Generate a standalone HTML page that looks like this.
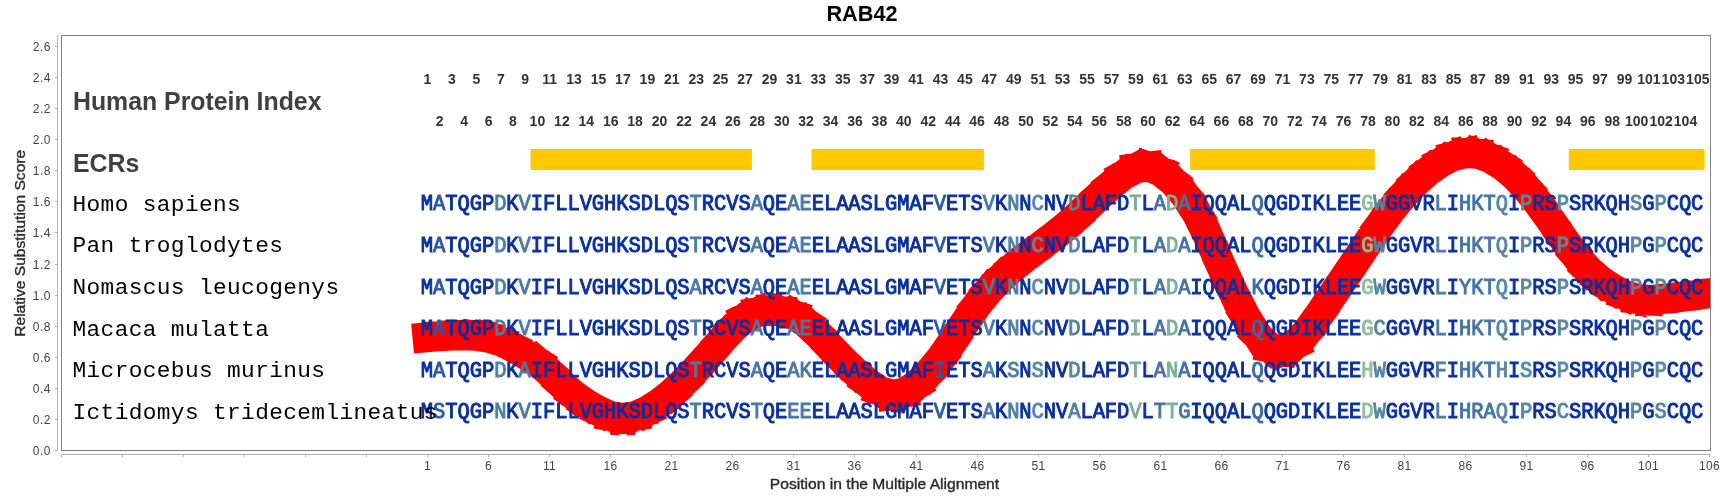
<!DOCTYPE html><html><head><meta charset="utf-8"><style>
html,body{margin:0;padding:0;background:#fff;width:1722px;height:500px;overflow:hidden}
svg{display:block;will-change:transform}
.s{font-family:"Liberation Sans",sans-serif}
.m{font-family:"Liberation Mono",monospace}
</style></head><body>
<svg width="1722" height="500" viewBox="0 0 1722 500">
<rect width="1722" height="500" fill="#fff"/>
<text class="s" x="862" y="21" font-size="21.7" font-weight="bold" text-anchor="middle" fill="#000">RAB42</text>
<line x1="57.5" y1="35" x2="57.5" y2="451" stroke="#b4b4b4" stroke-width="1"/>
<line x1="55" y1="450.5" x2="57" y2="450.5" stroke="#b4b4b4" stroke-width="1"/>
<text class="s" x="51" y="455.0" font-size="12" text-anchor="end" fill="#444" letter-spacing="0.55">0.0</text>
<line x1="55" y1="419.5" x2="57" y2="419.5" stroke="#b4b4b4" stroke-width="1"/>
<text class="s" x="51" y="424.0" font-size="12" text-anchor="end" fill="#444" letter-spacing="0.55">0.2</text>
<line x1="55" y1="388.5" x2="57" y2="388.5" stroke="#b4b4b4" stroke-width="1"/>
<text class="s" x="51" y="393.0" font-size="12" text-anchor="end" fill="#444" letter-spacing="0.55">0.4</text>
<line x1="55" y1="357.5" x2="57" y2="357.5" stroke="#b4b4b4" stroke-width="1"/>
<text class="s" x="51" y="362.0" font-size="12" text-anchor="end" fill="#444" letter-spacing="0.55">0.6</text>
<line x1="55" y1="326.5" x2="57" y2="326.5" stroke="#b4b4b4" stroke-width="1"/>
<text class="s" x="51" y="331.0" font-size="12" text-anchor="end" fill="#444" letter-spacing="0.55">0.8</text>
<line x1="55" y1="295.5" x2="57" y2="295.5" stroke="#b4b4b4" stroke-width="1"/>
<text class="s" x="51" y="300.0" font-size="12" text-anchor="end" fill="#444" letter-spacing="0.55">1.0</text>
<line x1="55" y1="264.5" x2="57" y2="264.5" stroke="#b4b4b4" stroke-width="1"/>
<text class="s" x="51" y="269.0" font-size="12" text-anchor="end" fill="#444" letter-spacing="0.55">1.2</text>
<line x1="55" y1="232.5" x2="57" y2="232.5" stroke="#b4b4b4" stroke-width="1"/>
<text class="s" x="51" y="237.0" font-size="12" text-anchor="end" fill="#444" letter-spacing="0.55">1.4</text>
<line x1="55" y1="201.5" x2="57" y2="201.5" stroke="#b4b4b4" stroke-width="1"/>
<text class="s" x="51" y="206.0" font-size="12" text-anchor="end" fill="#444" letter-spacing="0.55">1.6</text>
<line x1="55" y1="170.5" x2="57" y2="170.5" stroke="#b4b4b4" stroke-width="1"/>
<text class="s" x="51" y="175.0" font-size="12" text-anchor="end" fill="#444" letter-spacing="0.55">1.8</text>
<line x1="55" y1="139.5" x2="57" y2="139.5" stroke="#b4b4b4" stroke-width="1"/>
<text class="s" x="51" y="144.0" font-size="12" text-anchor="end" fill="#444" letter-spacing="0.55">2.0</text>
<line x1="55" y1="108.5" x2="57" y2="108.5" stroke="#b4b4b4" stroke-width="1"/>
<text class="s" x="51" y="113.0" font-size="12" text-anchor="end" fill="#444" letter-spacing="0.55">2.2</text>
<line x1="55" y1="77.5" x2="57" y2="77.5" stroke="#b4b4b4" stroke-width="1"/>
<text class="s" x="51" y="82.0" font-size="12" text-anchor="end" fill="#444" letter-spacing="0.55">2.4</text>
<line x1="55" y1="46.5" x2="57" y2="46.5" stroke="#b4b4b4" stroke-width="1"/>
<text class="s" x="51" y="51.0" font-size="12" text-anchor="end" fill="#444" letter-spacing="0.55">2.6</text>
<text class="s" transform="translate(25,243.3) rotate(-90) scale(1.113,1)" x="0" y="0" font-size="14" text-anchor="middle" fill="#2a2a2a" stroke="#2a2a2a" stroke-width="0.35">Relative Substitution Score</text>
<line x1="61" y1="454.5" x2="1711" y2="454.5" stroke="#b4b4b4" stroke-width="1"/>
<line x1="61.5" y1="455" x2="61.5" y2="457" stroke="#b4b4b4" stroke-width="1"/>
<line x1="122.5" y1="455" x2="122.5" y2="457" stroke="#b4b4b4" stroke-width="1"/>
<line x1="183.5" y1="455" x2="183.5" y2="457" stroke="#b4b4b4" stroke-width="1"/>
<line x1="244.5" y1="455" x2="244.5" y2="457" stroke="#b4b4b4" stroke-width="1"/>
<line x1="305.5" y1="455" x2="305.5" y2="457" stroke="#b4b4b4" stroke-width="1"/>
<line x1="366.5" y1="455" x2="366.5" y2="457" stroke="#b4b4b4" stroke-width="1"/>
<line x1="427.5" y1="455" x2="427.5" y2="457" stroke="#b4b4b4" stroke-width="1"/>
<text class="s" x="427.5" y="470" font-size="12" text-anchor="middle" fill="#444" letter-spacing="0.3">1</text>
<line x1="488.5" y1="455" x2="488.5" y2="457" stroke="#b4b4b4" stroke-width="1"/>
<text class="s" x="488.5" y="470" font-size="12" text-anchor="middle" fill="#444" letter-spacing="0.3">6</text>
<line x1="549.5" y1="455" x2="549.5" y2="457" stroke="#b4b4b4" stroke-width="1"/>
<text class="s" x="549.5" y="470" font-size="12" text-anchor="middle" fill="#444" letter-spacing="0.3">11</text>
<line x1="610.5" y1="455" x2="610.5" y2="457" stroke="#b4b4b4" stroke-width="1"/>
<text class="s" x="610.5" y="470" font-size="12" text-anchor="middle" fill="#444" letter-spacing="0.3">16</text>
<line x1="671.5" y1="455" x2="671.5" y2="457" stroke="#b4b4b4" stroke-width="1"/>
<text class="s" x="671.5" y="470" font-size="12" text-anchor="middle" fill="#444" letter-spacing="0.3">21</text>
<line x1="732.5" y1="455" x2="732.5" y2="457" stroke="#b4b4b4" stroke-width="1"/>
<text class="s" x="732.5" y="470" font-size="12" text-anchor="middle" fill="#444" letter-spacing="0.3">26</text>
<line x1="793.5" y1="455" x2="793.5" y2="457" stroke="#b4b4b4" stroke-width="1"/>
<text class="s" x="793.5" y="470" font-size="12" text-anchor="middle" fill="#444" letter-spacing="0.3">31</text>
<line x1="854.5" y1="455" x2="854.5" y2="457" stroke="#b4b4b4" stroke-width="1"/>
<text class="s" x="854.5" y="470" font-size="12" text-anchor="middle" fill="#444" letter-spacing="0.3">36</text>
<line x1="916.5" y1="455" x2="916.5" y2="457" stroke="#b4b4b4" stroke-width="1"/>
<text class="s" x="916.5" y="470" font-size="12" text-anchor="middle" fill="#444" letter-spacing="0.3">41</text>
<line x1="977.5" y1="455" x2="977.5" y2="457" stroke="#b4b4b4" stroke-width="1"/>
<text class="s" x="977.5" y="470" font-size="12" text-anchor="middle" fill="#444" letter-spacing="0.3">46</text>
<line x1="1038.5" y1="455" x2="1038.5" y2="457" stroke="#b4b4b4" stroke-width="1"/>
<text class="s" x="1038.5" y="470" font-size="12" text-anchor="middle" fill="#444" letter-spacing="0.3">51</text>
<line x1="1099.5" y1="455" x2="1099.5" y2="457" stroke="#b4b4b4" stroke-width="1"/>
<text class="s" x="1099.5" y="470" font-size="12" text-anchor="middle" fill="#444" letter-spacing="0.3">56</text>
<line x1="1160.5" y1="455" x2="1160.5" y2="457" stroke="#b4b4b4" stroke-width="1"/>
<text class="s" x="1160.5" y="470" font-size="12" text-anchor="middle" fill="#444" letter-spacing="0.3">61</text>
<line x1="1221.5" y1="455" x2="1221.5" y2="457" stroke="#b4b4b4" stroke-width="1"/>
<text class="s" x="1221.5" y="470" font-size="12" text-anchor="middle" fill="#444" letter-spacing="0.3">66</text>
<line x1="1282.5" y1="455" x2="1282.5" y2="457" stroke="#b4b4b4" stroke-width="1"/>
<text class="s" x="1282.5" y="470" font-size="12" text-anchor="middle" fill="#444" letter-spacing="0.3">71</text>
<line x1="1343.5" y1="455" x2="1343.5" y2="457" stroke="#b4b4b4" stroke-width="1"/>
<text class="s" x="1343.5" y="470" font-size="12" text-anchor="middle" fill="#444" letter-spacing="0.3">76</text>
<line x1="1404.5" y1="455" x2="1404.5" y2="457" stroke="#b4b4b4" stroke-width="1"/>
<text class="s" x="1404.5" y="470" font-size="12" text-anchor="middle" fill="#444" letter-spacing="0.3">81</text>
<line x1="1465.5" y1="455" x2="1465.5" y2="457" stroke="#b4b4b4" stroke-width="1"/>
<text class="s" x="1465.5" y="470" font-size="12" text-anchor="middle" fill="#444" letter-spacing="0.3">86</text>
<line x1="1526.5" y1="455" x2="1526.5" y2="457" stroke="#b4b4b4" stroke-width="1"/>
<text class="s" x="1526.5" y="470" font-size="12" text-anchor="middle" fill="#444" letter-spacing="0.3">91</text>
<line x1="1587.5" y1="455" x2="1587.5" y2="457" stroke="#b4b4b4" stroke-width="1"/>
<text class="s" x="1587.5" y="470" font-size="12" text-anchor="middle" fill="#444" letter-spacing="0.3">96</text>
<line x1="1648.5" y1="455" x2="1648.5" y2="457" stroke="#b4b4b4" stroke-width="1"/>
<text class="s" x="1648.5" y="470" font-size="12" text-anchor="middle" fill="#444" letter-spacing="0.3">101</text>
<line x1="1709.5" y1="455" x2="1709.5" y2="457" stroke="#b4b4b4" stroke-width="1"/>
<text class="s" x="1709.5" y="470" font-size="12" text-anchor="middle" fill="#444" letter-spacing="0.3">106</text>
<text class="s" transform="translate(884.5,489) scale(1.117,1)" x="0" y="0" font-size="14" text-anchor="middle" fill="#2a2a2a" stroke="#2a2a2a" stroke-width="0.35">Position in the Multiple Alignment</text>
<rect x="61.5" y="35.5" width="1649" height="415" fill="none" stroke="#808080" stroke-width="1"/>
<text class="s" x="73" y="110" font-size="24.85" font-weight="bold" fill="#404040">Human Protein Index</text>
<text class="s" x="73" y="172" font-size="24.85" font-weight="bold" fill="#404040">ECRs</text>
<text class="s" x="427.5" y="84" font-size="14" font-weight="bold" text-anchor="middle" fill="#333">1</text>
<text class="s" x="439.7" y="126" font-size="14" font-weight="bold" text-anchor="middle" fill="#333">2</text>
<text class="s" x="451.9" y="84" font-size="14" font-weight="bold" text-anchor="middle" fill="#333">3</text>
<text class="s" x="464.1" y="126" font-size="14" font-weight="bold" text-anchor="middle" fill="#333">4</text>
<text class="s" x="476.4" y="84" font-size="14" font-weight="bold" text-anchor="middle" fill="#333">5</text>
<text class="s" x="488.6" y="126" font-size="14" font-weight="bold" text-anchor="middle" fill="#333">6</text>
<text class="s" x="500.8" y="84" font-size="14" font-weight="bold" text-anchor="middle" fill="#333">7</text>
<text class="s" x="513.0" y="126" font-size="14" font-weight="bold" text-anchor="middle" fill="#333">8</text>
<text class="s" x="525.2" y="84" font-size="14" font-weight="bold" text-anchor="middle" fill="#333">9</text>
<text class="s" x="537.4" y="126" font-size="14" font-weight="bold" text-anchor="middle" fill="#333">10</text>
<text class="s" x="549.6" y="84" font-size="14" font-weight="bold" text-anchor="middle" fill="#333">11</text>
<text class="s" x="561.9" y="126" font-size="14" font-weight="bold" text-anchor="middle" fill="#333">12</text>
<text class="s" x="574.1" y="84" font-size="14" font-weight="bold" text-anchor="middle" fill="#333">13</text>
<text class="s" x="586.3" y="126" font-size="14" font-weight="bold" text-anchor="middle" fill="#333">14</text>
<text class="s" x="598.5" y="84" font-size="14" font-weight="bold" text-anchor="middle" fill="#333">15</text>
<text class="s" x="610.7" y="126" font-size="14" font-weight="bold" text-anchor="middle" fill="#333">16</text>
<text class="s" x="622.9" y="84" font-size="14" font-weight="bold" text-anchor="middle" fill="#333">17</text>
<text class="s" x="635.1" y="126" font-size="14" font-weight="bold" text-anchor="middle" fill="#333">18</text>
<text class="s" x="647.4" y="84" font-size="14" font-weight="bold" text-anchor="middle" fill="#333">19</text>
<text class="s" x="659.6" y="126" font-size="14" font-weight="bold" text-anchor="middle" fill="#333">20</text>
<text class="s" x="671.8" y="84" font-size="14" font-weight="bold" text-anchor="middle" fill="#333">21</text>
<text class="s" x="684.0" y="126" font-size="14" font-weight="bold" text-anchor="middle" fill="#333">22</text>
<text class="s" x="696.2" y="84" font-size="14" font-weight="bold" text-anchor="middle" fill="#333">23</text>
<text class="s" x="708.4" y="126" font-size="14" font-weight="bold" text-anchor="middle" fill="#333">24</text>
<text class="s" x="720.6" y="84" font-size="14" font-weight="bold" text-anchor="middle" fill="#333">25</text>
<text class="s" x="732.9" y="126" font-size="14" font-weight="bold" text-anchor="middle" fill="#333">26</text>
<text class="s" x="745.1" y="84" font-size="14" font-weight="bold" text-anchor="middle" fill="#333">27</text>
<text class="s" x="757.3" y="126" font-size="14" font-weight="bold" text-anchor="middle" fill="#333">28</text>
<text class="s" x="769.5" y="84" font-size="14" font-weight="bold" text-anchor="middle" fill="#333">29</text>
<text class="s" x="781.7" y="126" font-size="14" font-weight="bold" text-anchor="middle" fill="#333">30</text>
<text class="s" x="793.9" y="84" font-size="14" font-weight="bold" text-anchor="middle" fill="#333">31</text>
<text class="s" x="806.1" y="126" font-size="14" font-weight="bold" text-anchor="middle" fill="#333">32</text>
<text class="s" x="818.3" y="84" font-size="14" font-weight="bold" text-anchor="middle" fill="#333">33</text>
<text class="s" x="830.6" y="126" font-size="14" font-weight="bold" text-anchor="middle" fill="#333">34</text>
<text class="s" x="842.8" y="84" font-size="14" font-weight="bold" text-anchor="middle" fill="#333">35</text>
<text class="s" x="855.0" y="126" font-size="14" font-weight="bold" text-anchor="middle" fill="#333">36</text>
<text class="s" x="867.2" y="84" font-size="14" font-weight="bold" text-anchor="middle" fill="#333">37</text>
<text class="s" x="879.4" y="126" font-size="14" font-weight="bold" text-anchor="middle" fill="#333">38</text>
<text class="s" x="891.6" y="84" font-size="14" font-weight="bold" text-anchor="middle" fill="#333">39</text>
<text class="s" x="903.8" y="126" font-size="14" font-weight="bold" text-anchor="middle" fill="#333">40</text>
<text class="s" x="916.1" y="84" font-size="14" font-weight="bold" text-anchor="middle" fill="#333">41</text>
<text class="s" x="928.3" y="126" font-size="14" font-weight="bold" text-anchor="middle" fill="#333">42</text>
<text class="s" x="940.5" y="84" font-size="14" font-weight="bold" text-anchor="middle" fill="#333">43</text>
<text class="s" x="952.7" y="126" font-size="14" font-weight="bold" text-anchor="middle" fill="#333">44</text>
<text class="s" x="964.9" y="84" font-size="14" font-weight="bold" text-anchor="middle" fill="#333">45</text>
<text class="s" x="977.1" y="126" font-size="14" font-weight="bold" text-anchor="middle" fill="#333">46</text>
<text class="s" x="989.3" y="84" font-size="14" font-weight="bold" text-anchor="middle" fill="#333">47</text>
<text class="s" x="1001.6" y="126" font-size="14" font-weight="bold" text-anchor="middle" fill="#333">48</text>
<text class="s" x="1013.8" y="84" font-size="14" font-weight="bold" text-anchor="middle" fill="#333">49</text>
<text class="s" x="1026.0" y="126" font-size="14" font-weight="bold" text-anchor="middle" fill="#333">50</text>
<text class="s" x="1038.2" y="84" font-size="14" font-weight="bold" text-anchor="middle" fill="#333">51</text>
<text class="s" x="1050.4" y="126" font-size="14" font-weight="bold" text-anchor="middle" fill="#333">52</text>
<text class="s" x="1062.6" y="84" font-size="14" font-weight="bold" text-anchor="middle" fill="#333">53</text>
<text class="s" x="1074.8" y="126" font-size="14" font-weight="bold" text-anchor="middle" fill="#333">54</text>
<text class="s" x="1087.1" y="84" font-size="14" font-weight="bold" text-anchor="middle" fill="#333">55</text>
<text class="s" x="1099.3" y="126" font-size="14" font-weight="bold" text-anchor="middle" fill="#333">56</text>
<text class="s" x="1111.5" y="84" font-size="14" font-weight="bold" text-anchor="middle" fill="#333">57</text>
<text class="s" x="1123.7" y="126" font-size="14" font-weight="bold" text-anchor="middle" fill="#333">58</text>
<text class="s" x="1135.9" y="84" font-size="14" font-weight="bold" text-anchor="middle" fill="#333">59</text>
<text class="s" x="1148.1" y="126" font-size="14" font-weight="bold" text-anchor="middle" fill="#333">60</text>
<text class="s" x="1160.3" y="84" font-size="14" font-weight="bold" text-anchor="middle" fill="#333">61</text>
<text class="s" x="1172.6" y="126" font-size="14" font-weight="bold" text-anchor="middle" fill="#333">62</text>
<text class="s" x="1184.8" y="84" font-size="14" font-weight="bold" text-anchor="middle" fill="#333">63</text>
<text class="s" x="1197.0" y="126" font-size="14" font-weight="bold" text-anchor="middle" fill="#333">64</text>
<text class="s" x="1209.2" y="84" font-size="14" font-weight="bold" text-anchor="middle" fill="#333">65</text>
<text class="s" x="1221.4" y="126" font-size="14" font-weight="bold" text-anchor="middle" fill="#333">66</text>
<text class="s" x="1233.6" y="84" font-size="14" font-weight="bold" text-anchor="middle" fill="#333">67</text>
<text class="s" x="1245.8" y="126" font-size="14" font-weight="bold" text-anchor="middle" fill="#333">68</text>
<text class="s" x="1258.1" y="84" font-size="14" font-weight="bold" text-anchor="middle" fill="#333">69</text>
<text class="s" x="1270.3" y="126" font-size="14" font-weight="bold" text-anchor="middle" fill="#333">70</text>
<text class="s" x="1282.5" y="84" font-size="14" font-weight="bold" text-anchor="middle" fill="#333">71</text>
<text class="s" x="1294.7" y="126" font-size="14" font-weight="bold" text-anchor="middle" fill="#333">72</text>
<text class="s" x="1306.9" y="84" font-size="14" font-weight="bold" text-anchor="middle" fill="#333">73</text>
<text class="s" x="1319.1" y="126" font-size="14" font-weight="bold" text-anchor="middle" fill="#333">74</text>
<text class="s" x="1331.3" y="84" font-size="14" font-weight="bold" text-anchor="middle" fill="#333">75</text>
<text class="s" x="1343.6" y="126" font-size="14" font-weight="bold" text-anchor="middle" fill="#333">76</text>
<text class="s" x="1355.8" y="84" font-size="14" font-weight="bold" text-anchor="middle" fill="#333">77</text>
<text class="s" x="1368.0" y="126" font-size="14" font-weight="bold" text-anchor="middle" fill="#333">78</text>
<text class="s" x="1380.2" y="84" font-size="14" font-weight="bold" text-anchor="middle" fill="#333">79</text>
<text class="s" x="1392.4" y="126" font-size="14" font-weight="bold" text-anchor="middle" fill="#333">80</text>
<text class="s" x="1404.6" y="84" font-size="14" font-weight="bold" text-anchor="middle" fill="#333">81</text>
<text class="s" x="1416.8" y="126" font-size="14" font-weight="bold" text-anchor="middle" fill="#333">82</text>
<text class="s" x="1429.0" y="84" font-size="14" font-weight="bold" text-anchor="middle" fill="#333">83</text>
<text class="s" x="1441.3" y="126" font-size="14" font-weight="bold" text-anchor="middle" fill="#333">84</text>
<text class="s" x="1453.5" y="84" font-size="14" font-weight="bold" text-anchor="middle" fill="#333">85</text>
<text class="s" x="1465.7" y="126" font-size="14" font-weight="bold" text-anchor="middle" fill="#333">86</text>
<text class="s" x="1477.9" y="84" font-size="14" font-weight="bold" text-anchor="middle" fill="#333">87</text>
<text class="s" x="1490.1" y="126" font-size="14" font-weight="bold" text-anchor="middle" fill="#333">88</text>
<text class="s" x="1502.3" y="84" font-size="14" font-weight="bold" text-anchor="middle" fill="#333">89</text>
<text class="s" x="1514.5" y="126" font-size="14" font-weight="bold" text-anchor="middle" fill="#333">90</text>
<text class="s" x="1526.8" y="84" font-size="14" font-weight="bold" text-anchor="middle" fill="#333">91</text>
<text class="s" x="1539.0" y="126" font-size="14" font-weight="bold" text-anchor="middle" fill="#333">92</text>
<text class="s" x="1551.2" y="84" font-size="14" font-weight="bold" text-anchor="middle" fill="#333">93</text>
<text class="s" x="1563.4" y="126" font-size="14" font-weight="bold" text-anchor="middle" fill="#333">94</text>
<text class="s" x="1575.6" y="84" font-size="14" font-weight="bold" text-anchor="middle" fill="#333">95</text>
<text class="s" x="1587.8" y="126" font-size="14" font-weight="bold" text-anchor="middle" fill="#333">96</text>
<text class="s" x="1600.0" y="84" font-size="14" font-weight="bold" text-anchor="middle" fill="#333">97</text>
<text class="s" x="1612.3" y="126" font-size="14" font-weight="bold" text-anchor="middle" fill="#333">98</text>
<text class="s" x="1624.5" y="84" font-size="14" font-weight="bold" text-anchor="middle" fill="#333">99</text>
<text class="s" x="1636.7" y="126" font-size="14" font-weight="bold" text-anchor="middle" fill="#333">100</text>
<text class="s" x="1648.9" y="84" font-size="14" font-weight="bold" text-anchor="middle" fill="#333">101</text>
<text class="s" x="1661.1" y="126" font-size="14" font-weight="bold" text-anchor="middle" fill="#333">102</text>
<text class="s" x="1673.3" y="84" font-size="14" font-weight="bold" text-anchor="middle" fill="#333">103</text>
<text class="s" x="1685.5" y="126" font-size="14" font-weight="bold" text-anchor="middle" fill="#333">104</text>
<text class="s" x="1697.8" y="84" font-size="14" font-weight="bold" text-anchor="middle" fill="#333">105</text>
<rect x="530.6" y="149" width="221.3" height="21" fill="#ffc800"/>
<rect x="811.5" y="149" width="172.4" height="21" fill="#ffc800"/>
<rect x="1190.2" y="149" width="184.6" height="21" fill="#ffc800"/>
<rect x="1568.8" y="149" width="135.8" height="21" fill="#ffc800"/>
<defs><clipPath id="cp"><rect x="62" y="36" width="1648" height="414"/></clipPath></defs>
<path d="M427.50,337.30 L439.71,336.17 M439.71,336.17 L451.93,335.43 M451.93,335.43 L464.14,335.30 M464.14,335.30 L476.36,335.83 M476.36,335.83 L488.57,337.67 M488.57,337.67 L500.78,341.49 M500.78,341.49 L513.00,347.30 M513.00,347.30 L525.21,354.38 M525.21,354.38 L537.43,361.86 M537.43,361.86 L549.64,372.46 M549.64,372.46 L561.85,384.46 M561.85,384.46 L574.07,395.22 M574.07,395.22 L586.28,403.86 M586.28,403.86 L598.50,410.86 M598.50,410.86 L610.71,416.04 M610.71,416.04 L622.92,418.05 M622.92,418.05 L635.14,416.05 M635.14,416.05 L647.35,410.77 M647.35,410.77 L659.57,403.03 M659.57,403.03 L671.78,393.24 M671.78,393.24 L683.99,381.81 M683.99,381.81 L696.21,369.12 M696.21,369.12 L708.42,355.56 M708.42,355.56 L720.64,341.54 M720.64,341.54 L732.85,328.26 M732.85,328.26 L745.06,317.96 M745.06,317.96 L757.28,312.32 M757.28,312.32 L769.49,310.53 M769.49,310.53 L781.71,311.33 M781.71,311.33 L793.92,315.13 M793.92,315.13 L806.13,323.01 M806.13,323.01 L818.35,334.45 M818.35,334.45 L830.56,347.38 M830.56,347.38 L842.78,360.01 M842.78,360.01 L854.99,371.76 M854.99,371.76 L867.20,382.33 M867.20,382.33 L879.42,390.65 M879.42,390.65 L891.63,394.69 M891.63,394.69 L903.85,392.72 M903.85,392.72 L916.06,385.22 M916.06,385.22 L928.27,373.58 M928.27,373.58 L940.49,358.75 M940.49,358.75 L952.70,341.35 M952.70,341.35 L964.92,322.61 M964.92,322.61 L977.13,304.88 M977.13,304.88 L989.34,289.94 M989.34,289.94 L1001.56,277.50 M1001.56,277.50 L1013.77,266.79 M1013.77,266.79 L1025.99,257.10 M1025.99,257.10 L1038.20,247.88 M1038.20,247.88 L1050.41,238.68 M1050.41,238.68 L1062.63,229.04 M1062.63,229.04 L1074.84,218.54 M1074.84,218.54 L1087.06,207.20 M1087.06,207.20 L1099.27,195.68 M1099.27,195.68 L1111.48,184.64 M1111.48,184.64 L1123.70,174.92 M1123.70,174.92 L1135.91,168.24 M1135.91,168.24 L1148.13,166.69 M1148.13,166.69 L1160.34,171.25 M1160.34,171.25 L1172.55,180.95 M1172.55,180.95 L1184.77,194.88 M1184.77,194.88 L1196.98,213.73 M1196.98,213.73 L1209.20,238.55 M1209.20,238.55 L1221.41,266.52 M1221.41,266.52 L1233.62,292.98 M1233.62,292.98 L1245.84,316.86 M1245.84,316.86 L1258.05,336.27 M1258.05,336.27 L1270.27,347.85 M1270.27,347.85 L1282.48,350.41 M1282.48,350.41 L1294.69,344.57 M1294.69,344.57 L1306.91,331.81 M1306.91,331.81 L1319.12,314.86 M1319.12,314.86 L1331.34,296.81 M1331.34,296.81 L1343.55,278.96 M1343.55,278.96 L1355.76,260.92 M1355.76,260.92 L1367.98,242.59 M1367.98,242.59 L1380.19,224.83 M1380.19,224.83 L1392.41,208.50 M1392.41,208.50 L1404.62,193.92 M1404.62,193.92 L1416.83,181.22 M1416.83,181.22 L1429.05,170.55 M1429.05,170.55 L1441.26,162.11 M1441.26,162.11 L1453.48,156.13 M1453.48,156.13 L1465.69,153.14 M1465.69,153.14 L1477.90,153.82 M1477.90,153.82 L1490.12,158.17 M1490.12,158.17 L1502.33,165.56 M1502.33,165.56 L1514.55,175.66 M1514.55,175.66 L1526.76,188.60 M1526.76,188.60 L1538.97,204.05 M1538.97,204.05 L1551.19,221.11 M1551.19,221.11 L1563.40,238.76 M1563.40,238.76 L1575.62,255.44 M1575.62,255.44 L1587.83,269.47 M1587.83,269.47 L1600.04,280.23 M1600.04,280.23 L1612.26,288.48 M1612.26,288.48 L1624.47,294.85 M1624.47,294.85 L1636.69,298.84 M1636.69,298.84 L1648.90,300.04 M1648.90,300.04 L1661.11,299.10 M1661.11,299.10 L1673.33,297.68 M1673.33,297.68 L1685.54,296.41 M1685.54,296.41 L1697.76,294.75 M1697.76,294.75 L1709.97,293.20 M1709.97,293.20 L1722.18,292.20 " fill="none" stroke="#ff0000" stroke-width="30" stroke-linecap="square" clip-path="url(#cp)"/>
<text class="m" transform="translate(427.00,210.40) scale(0.93,1)" font-size="22" text-anchor="middle" fill="#0a2fa0" stroke="#0a2fa0" stroke-width="1.0">M</text>
<text class="m" transform="translate(439.21,210.40) scale(0.93,1)" font-size="22" text-anchor="middle" fill="#2a5aa8" stroke="#2a5aa8" stroke-width="1.0">A</text>
<text class="m" transform="translate(451.43,210.40) scale(0.93,1)" font-size="22" text-anchor="middle" fill="#0a2fa0" stroke="#0a2fa0" stroke-width="1.0">T</text>
<text class="m" transform="translate(463.64,210.40) scale(0.93,1)" font-size="22" text-anchor="middle" fill="#0a2fa0" stroke="#0a2fa0" stroke-width="1.0">Q</text>
<text class="m" transform="translate(475.86,210.40) scale(0.93,1)" font-size="22" text-anchor="middle" fill="#0a2fa0" stroke="#0a2fa0" stroke-width="1.0">G</text>
<text class="m" transform="translate(488.07,210.40) scale(0.93,1)" font-size="22" text-anchor="middle" fill="#0a2fa0" stroke="#0a2fa0" stroke-width="1.0">P</text>
<text class="m" transform="translate(500.28,210.40) scale(0.93,1)" font-size="22" text-anchor="middle" fill="#4f7ea6" stroke="#4f7ea6" stroke-width="1.0">D</text>
<text class="m" transform="translate(512.50,210.40) scale(0.93,1)" font-size="22" text-anchor="middle" fill="#0a2fa0" stroke="#0a2fa0" stroke-width="1.0">K</text>
<text class="m" transform="translate(524.71,210.40) scale(0.93,1)" font-size="22" text-anchor="middle" fill="#4a7aa6" stroke="#4a7aa6" stroke-width="1.0">V</text>
<text class="m" transform="translate(536.93,210.40) scale(0.93,1)" font-size="22" text-anchor="middle" fill="#0a2fa0" stroke="#0a2fa0" stroke-width="1.0">I</text>
<text class="m" transform="translate(549.14,210.40) scale(0.93,1)" font-size="22" text-anchor="middle" fill="#0a2fa0" stroke="#0a2fa0" stroke-width="1.0">F</text>
<text class="m" transform="translate(561.35,210.40) scale(0.93,1)" font-size="22" text-anchor="middle" fill="#0a2fa0" stroke="#0a2fa0" stroke-width="1.0">L</text>
<text class="m" transform="translate(573.57,210.40) scale(0.93,1)" font-size="22" text-anchor="middle" fill="#0a2fa0" stroke="#0a2fa0" stroke-width="1.0">L</text>
<text class="m" transform="translate(585.78,210.40) scale(0.93,1)" font-size="22" text-anchor="middle" fill="#0a2fa0" stroke="#0a2fa0" stroke-width="1.0">V</text>
<text class="m" transform="translate(598.00,210.40) scale(0.93,1)" font-size="22" text-anchor="middle" fill="#0a2fa0" stroke="#0a2fa0" stroke-width="1.0">G</text>
<text class="m" transform="translate(610.21,210.40) scale(0.93,1)" font-size="22" text-anchor="middle" fill="#0a2fa0" stroke="#0a2fa0" stroke-width="1.0">H</text>
<text class="m" transform="translate(622.42,210.40) scale(0.93,1)" font-size="22" text-anchor="middle" fill="#0a2fa0" stroke="#0a2fa0" stroke-width="1.0">K</text>
<text class="m" transform="translate(634.64,210.40) scale(0.93,1)" font-size="22" text-anchor="middle" fill="#0a2fa0" stroke="#0a2fa0" stroke-width="1.0">S</text>
<text class="m" transform="translate(646.85,210.40) scale(0.93,1)" font-size="22" text-anchor="middle" fill="#0a2fa0" stroke="#0a2fa0" stroke-width="1.0">D</text>
<text class="m" transform="translate(659.07,210.40) scale(0.93,1)" font-size="22" text-anchor="middle" fill="#0a2fa0" stroke="#0a2fa0" stroke-width="1.0">L</text>
<text class="m" transform="translate(671.28,210.40) scale(0.93,1)" font-size="22" text-anchor="middle" fill="#0a2fa0" stroke="#0a2fa0" stroke-width="1.0">Q</text>
<text class="m" transform="translate(683.49,210.40) scale(0.93,1)" font-size="22" text-anchor="middle" fill="#0a2fa0" stroke="#0a2fa0" stroke-width="1.0">S</text>
<text class="m" transform="translate(695.71,210.40) scale(0.93,1)" font-size="22" text-anchor="middle" fill="#4a7aa6" stroke="#4a7aa6" stroke-width="1.0">T</text>
<text class="m" transform="translate(707.92,210.40) scale(0.93,1)" font-size="22" text-anchor="middle" fill="#0a2fa0" stroke="#0a2fa0" stroke-width="1.0">R</text>
<text class="m" transform="translate(720.14,210.40) scale(0.93,1)" font-size="22" text-anchor="middle" fill="#0a2fa0" stroke="#0a2fa0" stroke-width="1.0">C</text>
<text class="m" transform="translate(732.35,210.40) scale(0.93,1)" font-size="22" text-anchor="middle" fill="#0a2fa0" stroke="#0a2fa0" stroke-width="1.0">V</text>
<text class="m" transform="translate(744.56,210.40) scale(0.93,1)" font-size="22" text-anchor="middle" fill="#0a2fa0" stroke="#0a2fa0" stroke-width="1.0">S</text>
<text class="m" transform="translate(756.78,210.40) scale(0.93,1)" font-size="22" text-anchor="middle" fill="#4a78a6" stroke="#4a78a6" stroke-width="1.0">A</text>
<text class="m" transform="translate(768.99,210.40) scale(0.93,1)" font-size="22" text-anchor="middle" fill="#0a2fa0" stroke="#0a2fa0" stroke-width="1.0">Q</text>
<text class="m" transform="translate(781.21,210.40) scale(0.93,1)" font-size="22" text-anchor="middle" fill="#0a2fa0" stroke="#0a2fa0" stroke-width="1.0">E</text>
<text class="m" transform="translate(793.42,210.40) scale(0.93,1)" font-size="22" text-anchor="middle" fill="#4a78a6" stroke="#4a78a6" stroke-width="1.0">A</text>
<text class="m" transform="translate(805.63,210.40) scale(0.93,1)" font-size="22" text-anchor="middle" fill="#4a78a6" stroke="#4a78a6" stroke-width="1.0">E</text>
<text class="m" transform="translate(817.85,210.40) scale(0.93,1)" font-size="22" text-anchor="middle" fill="#0a2fa0" stroke="#0a2fa0" stroke-width="1.0">E</text>
<text class="m" transform="translate(830.06,210.40) scale(0.93,1)" font-size="22" text-anchor="middle" fill="#0a2fa0" stroke="#0a2fa0" stroke-width="1.0">L</text>
<text class="m" transform="translate(842.28,210.40) scale(0.93,1)" font-size="22" text-anchor="middle" fill="#0a2fa0" stroke="#0a2fa0" stroke-width="1.0">A</text>
<text class="m" transform="translate(854.49,210.40) scale(0.93,1)" font-size="22" text-anchor="middle" fill="#0a2fa0" stroke="#0a2fa0" stroke-width="1.0">A</text>
<text class="m" transform="translate(866.70,210.40) scale(0.93,1)" font-size="22" text-anchor="middle" fill="#0a2fa0" stroke="#0a2fa0" stroke-width="1.0">S</text>
<text class="m" transform="translate(878.92,210.40) scale(0.93,1)" font-size="22" text-anchor="middle" fill="#0a2fa0" stroke="#0a2fa0" stroke-width="1.0">L</text>
<text class="m" transform="translate(891.13,210.40) scale(0.93,1)" font-size="22" text-anchor="middle" fill="#0a2fa0" stroke="#0a2fa0" stroke-width="1.0">G</text>
<text class="m" transform="translate(903.35,210.40) scale(0.93,1)" font-size="22" text-anchor="middle" fill="#0a2fa0" stroke="#0a2fa0" stroke-width="1.0">M</text>
<text class="m" transform="translate(915.56,210.40) scale(0.93,1)" font-size="22" text-anchor="middle" fill="#0a2fa0" stroke="#0a2fa0" stroke-width="1.0">A</text>
<text class="m" transform="translate(927.77,210.40) scale(0.93,1)" font-size="22" text-anchor="middle" fill="#0a2fa0" stroke="#0a2fa0" stroke-width="1.0">F</text>
<text class="m" transform="translate(939.99,210.40) scale(0.93,1)" font-size="22" text-anchor="middle" fill="#2a5aa8" stroke="#2a5aa8" stroke-width="1.0">V</text>
<text class="m" transform="translate(952.20,210.40) scale(0.93,1)" font-size="22" text-anchor="middle" fill="#0a2fa0" stroke="#0a2fa0" stroke-width="1.0">E</text>
<text class="m" transform="translate(964.42,210.40) scale(0.93,1)" font-size="22" text-anchor="middle" fill="#0a2fa0" stroke="#0a2fa0" stroke-width="1.0">T</text>
<text class="m" transform="translate(976.63,210.40) scale(0.93,1)" font-size="22" text-anchor="middle" fill="#0a2fa0" stroke="#0a2fa0" stroke-width="1.0">S</text>
<text class="m" transform="translate(988.84,210.40) scale(0.93,1)" font-size="22" text-anchor="middle" fill="#4a7aa6" stroke="#4a7aa6" stroke-width="1.0">V</text>
<text class="m" transform="translate(1001.06,210.40) scale(0.93,1)" font-size="22" text-anchor="middle" fill="#0a2fa0" stroke="#0a2fa0" stroke-width="1.0">K</text>
<text class="m" transform="translate(1013.27,210.40) scale(0.93,1)" font-size="22" text-anchor="middle" fill="#5080a2" stroke="#5080a2" stroke-width="1.0">N</text>
<text class="m" transform="translate(1025.49,210.40) scale(0.93,1)" font-size="22" text-anchor="middle" fill="#0a2fa0" stroke="#0a2fa0" stroke-width="1.0">N</text>
<text class="m" transform="translate(1037.70,210.40) scale(0.93,1)" font-size="22" text-anchor="middle" fill="#5a8aa2" stroke="#5a8aa2" stroke-width="1.0">C</text>
<text class="m" transform="translate(1049.91,210.40) scale(0.93,1)" font-size="22" text-anchor="middle" fill="#0a2fa0" stroke="#0a2fa0" stroke-width="1.0">N</text>
<text class="m" transform="translate(1062.13,210.40) scale(0.93,1)" font-size="22" text-anchor="middle" fill="#0a2fa0" stroke="#0a2fa0" stroke-width="1.0">V</text>
<text class="m" transform="translate(1074.34,210.40) scale(0.93,1)" font-size="22" text-anchor="middle" fill="#5585a2" stroke="#5585a2" stroke-width="1.0">D</text>
<text class="m" transform="translate(1086.56,210.40) scale(0.93,1)" font-size="22" text-anchor="middle" fill="#0a2fa0" stroke="#0a2fa0" stroke-width="1.0">L</text>
<text class="m" transform="translate(1098.77,210.40) scale(0.93,1)" font-size="22" text-anchor="middle" fill="#0a2fa0" stroke="#0a2fa0" stroke-width="1.0">A</text>
<text class="m" transform="translate(1110.98,210.40) scale(0.93,1)" font-size="22" text-anchor="middle" fill="#0a2fa0" stroke="#0a2fa0" stroke-width="1.0">F</text>
<text class="m" transform="translate(1123.20,210.40) scale(0.93,1)" font-size="22" text-anchor="middle" fill="#0a2fa0" stroke="#0a2fa0" stroke-width="1.0">D</text>
<text class="m" transform="translate(1135.41,210.40) scale(0.93,1)" font-size="22" text-anchor="middle" fill="#7aae98" stroke="#7aae98" stroke-width="1.0">T</text>
<text class="m" transform="translate(1147.63,210.40) scale(0.93,1)" font-size="22" text-anchor="middle" fill="#0a2fa0" stroke="#0a2fa0" stroke-width="1.0">L</text>
<text class="m" transform="translate(1159.84,210.40) scale(0.93,1)" font-size="22" text-anchor="middle" fill="#4573a6" stroke="#4573a6" stroke-width="1.0">A</text>
<text class="m" transform="translate(1172.05,210.40) scale(0.93,1)" font-size="22" text-anchor="middle" fill="#7cb098" stroke="#7cb098" stroke-width="1.0">D</text>
<text class="m" transform="translate(1184.27,210.40) scale(0.93,1)" font-size="22" text-anchor="middle" fill="#4573a6" stroke="#4573a6" stroke-width="1.0">A</text>
<text class="m" transform="translate(1196.48,210.40) scale(0.93,1)" font-size="22" text-anchor="middle" fill="#0a2fa0" stroke="#0a2fa0" stroke-width="1.0">I</text>
<text class="m" transform="translate(1208.70,210.40) scale(0.93,1)" font-size="22" text-anchor="middle" fill="#0a2fa0" stroke="#0a2fa0" stroke-width="1.0">Q</text>
<text class="m" transform="translate(1220.91,210.40) scale(0.93,1)" font-size="22" text-anchor="middle" fill="#0a2fa0" stroke="#0a2fa0" stroke-width="1.0">Q</text>
<text class="m" transform="translate(1233.12,210.40) scale(0.93,1)" font-size="22" text-anchor="middle" fill="#0a2fa0" stroke="#0a2fa0" stroke-width="1.0">A</text>
<text class="m" transform="translate(1245.34,210.40) scale(0.93,1)" font-size="22" text-anchor="middle" fill="#0a2fa0" stroke="#0a2fa0" stroke-width="1.0">L</text>
<text class="m" transform="translate(1257.55,210.40) scale(0.93,1)" font-size="22" text-anchor="middle" fill="#3a6aa8" stroke="#3a6aa8" stroke-width="1.0">Q</text>
<text class="m" transform="translate(1269.77,210.40) scale(0.93,1)" font-size="22" text-anchor="middle" fill="#0a2fa0" stroke="#0a2fa0" stroke-width="1.0">Q</text>
<text class="m" transform="translate(1281.98,210.40) scale(0.93,1)" font-size="22" text-anchor="middle" fill="#0a2fa0" stroke="#0a2fa0" stroke-width="1.0">G</text>
<text class="m" transform="translate(1294.19,210.40) scale(0.93,1)" font-size="22" text-anchor="middle" fill="#0a2fa0" stroke="#0a2fa0" stroke-width="1.0">D</text>
<text class="m" transform="translate(1306.41,210.40) scale(0.93,1)" font-size="22" text-anchor="middle" fill="#0a2fa0" stroke="#0a2fa0" stroke-width="1.0">I</text>
<text class="m" transform="translate(1318.62,210.40) scale(0.93,1)" font-size="22" text-anchor="middle" fill="#0a2fa0" stroke="#0a2fa0" stroke-width="1.0">K</text>
<text class="m" transform="translate(1330.84,210.40) scale(0.93,1)" font-size="22" text-anchor="middle" fill="#0a2fa0" stroke="#0a2fa0" stroke-width="1.0">L</text>
<text class="m" transform="translate(1343.05,210.40) scale(0.93,1)" font-size="22" text-anchor="middle" fill="#0a2fa0" stroke="#0a2fa0" stroke-width="1.0">E</text>
<text class="m" transform="translate(1355.26,210.40) scale(0.93,1)" font-size="22" text-anchor="middle" fill="#0a2fa0" stroke="#0a2fa0" stroke-width="1.0">E</text>
<text class="m" transform="translate(1367.48,210.40) scale(0.93,1)" font-size="22" text-anchor="middle" fill="#8cbe9c" stroke="#8cbe9c" stroke-width="1.0">G</text>
<text class="m" transform="translate(1379.69,210.40) scale(0.93,1)" font-size="22" text-anchor="middle" fill="#5585a2" stroke="#5585a2" stroke-width="1.0">W</text>
<text class="m" transform="translate(1391.91,210.40) scale(0.93,1)" font-size="22" text-anchor="middle" fill="#0a2fa0" stroke="#0a2fa0" stroke-width="1.0">G</text>
<text class="m" transform="translate(1404.12,210.40) scale(0.93,1)" font-size="22" text-anchor="middle" fill="#0a2fa0" stroke="#0a2fa0" stroke-width="1.0">G</text>
<text class="m" transform="translate(1416.33,210.40) scale(0.93,1)" font-size="22" text-anchor="middle" fill="#0a2fa0" stroke="#0a2fa0" stroke-width="1.0">V</text>
<text class="m" transform="translate(1428.55,210.40) scale(0.93,1)" font-size="22" text-anchor="middle" fill="#0a2fa0" stroke="#0a2fa0" stroke-width="1.0">R</text>
<text class="m" transform="translate(1440.76,210.40) scale(0.93,1)" font-size="22" text-anchor="middle" fill="#4a7aa6" stroke="#4a7aa6" stroke-width="1.0">L</text>
<text class="m" transform="translate(1452.98,210.40) scale(0.93,1)" font-size="22" text-anchor="middle" fill="#0a2fa0" stroke="#0a2fa0" stroke-width="1.0">I</text>
<text class="m" transform="translate(1465.19,210.40) scale(0.93,1)" font-size="22" text-anchor="middle" fill="#4573a6" stroke="#4573a6" stroke-width="1.0">H</text>
<text class="m" transform="translate(1477.40,210.40) scale(0.93,1)" font-size="22" text-anchor="middle" fill="#4573a6" stroke="#4573a6" stroke-width="1.0">K</text>
<text class="m" transform="translate(1489.62,210.40) scale(0.93,1)" font-size="22" text-anchor="middle" fill="#4876a6" stroke="#4876a6" stroke-width="1.0">T</text>
<text class="m" transform="translate(1501.83,210.40) scale(0.93,1)" font-size="22" text-anchor="middle" fill="#5888a4" stroke="#5888a4" stroke-width="1.0">Q</text>
<text class="m" transform="translate(1514.05,210.40) scale(0.93,1)" font-size="22" text-anchor="middle" fill="#0a2fa0" stroke="#0a2fa0" stroke-width="1.0">I</text>
<text class="m" transform="translate(1526.26,210.40) scale(0.93,1)" font-size="22" text-anchor="middle" fill="#5888a4" stroke="#5888a4" stroke-width="1.0">P</text>
<text class="m" transform="translate(1538.47,210.40) scale(0.93,1)" font-size="22" text-anchor="middle" fill="#0a2fa0" stroke="#0a2fa0" stroke-width="1.0">R</text>
<text class="m" transform="translate(1550.69,210.40) scale(0.93,1)" font-size="22" text-anchor="middle" fill="#0a2fa0" stroke="#0a2fa0" stroke-width="1.0">S</text>
<text class="m" transform="translate(1562.90,210.40) scale(0.93,1)" font-size="22" text-anchor="middle" fill="#5888a4" stroke="#5888a4" stroke-width="1.0">P</text>
<text class="m" transform="translate(1575.12,210.40) scale(0.93,1)" font-size="22" text-anchor="middle" fill="#0a2fa0" stroke="#0a2fa0" stroke-width="1.0">S</text>
<text class="m" transform="translate(1587.33,210.40) scale(0.93,1)" font-size="22" text-anchor="middle" fill="#0a2fa0" stroke="#0a2fa0" stroke-width="1.0">R</text>
<text class="m" transform="translate(1599.54,210.40) scale(0.93,1)" font-size="22" text-anchor="middle" fill="#0a2fa0" stroke="#0a2fa0" stroke-width="1.0">K</text>
<text class="m" transform="translate(1611.76,210.40) scale(0.93,1)" font-size="22" text-anchor="middle" fill="#0a2fa0" stroke="#0a2fa0" stroke-width="1.0">Q</text>
<text class="m" transform="translate(1623.97,210.40) scale(0.93,1)" font-size="22" text-anchor="middle" fill="#0a2fa0" stroke="#0a2fa0" stroke-width="1.0">H</text>
<text class="m" transform="translate(1636.19,210.40) scale(0.93,1)" font-size="22" text-anchor="middle" fill="#5585a2" stroke="#5585a2" stroke-width="1.0">S</text>
<text class="m" transform="translate(1648.40,210.40) scale(0.93,1)" font-size="22" text-anchor="middle" fill="#0a2fa0" stroke="#0a2fa0" stroke-width="1.0">G</text>
<text class="m" transform="translate(1660.61,210.40) scale(0.93,1)" font-size="22" text-anchor="middle" fill="#5888a4" stroke="#5888a4" stroke-width="1.0">P</text>
<text class="m" transform="translate(1672.83,210.40) scale(0.93,1)" font-size="22" text-anchor="middle" fill="#0a2fa0" stroke="#0a2fa0" stroke-width="1.0">C</text>
<text class="m" transform="translate(1685.04,210.40) scale(0.93,1)" font-size="22" text-anchor="middle" fill="#0a2fa0" stroke="#0a2fa0" stroke-width="1.0">Q</text>
<text class="m" transform="translate(1697.26,210.40) scale(0.93,1)" font-size="22" text-anchor="middle" fill="#0a2fa0" stroke="#0a2fa0" stroke-width="1.0">C</text>
<text class="m" transform="translate(427.00,252.00) scale(0.93,1)" font-size="22" text-anchor="middle" fill="#0a2fa0" stroke="#0a2fa0" stroke-width="1.0">M</text>
<text class="m" transform="translate(439.21,252.00) scale(0.93,1)" font-size="22" text-anchor="middle" fill="#2a5aa8" stroke="#2a5aa8" stroke-width="1.0">A</text>
<text class="m" transform="translate(451.43,252.00) scale(0.93,1)" font-size="22" text-anchor="middle" fill="#0a2fa0" stroke="#0a2fa0" stroke-width="1.0">T</text>
<text class="m" transform="translate(463.64,252.00) scale(0.93,1)" font-size="22" text-anchor="middle" fill="#0a2fa0" stroke="#0a2fa0" stroke-width="1.0">Q</text>
<text class="m" transform="translate(475.86,252.00) scale(0.93,1)" font-size="22" text-anchor="middle" fill="#0a2fa0" stroke="#0a2fa0" stroke-width="1.0">G</text>
<text class="m" transform="translate(488.07,252.00) scale(0.93,1)" font-size="22" text-anchor="middle" fill="#0a2fa0" stroke="#0a2fa0" stroke-width="1.0">P</text>
<text class="m" transform="translate(500.28,252.00) scale(0.93,1)" font-size="22" text-anchor="middle" fill="#4f7ea6" stroke="#4f7ea6" stroke-width="1.0">D</text>
<text class="m" transform="translate(512.50,252.00) scale(0.93,1)" font-size="22" text-anchor="middle" fill="#0a2fa0" stroke="#0a2fa0" stroke-width="1.0">K</text>
<text class="m" transform="translate(524.71,252.00) scale(0.93,1)" font-size="22" text-anchor="middle" fill="#4a7aa6" stroke="#4a7aa6" stroke-width="1.0">V</text>
<text class="m" transform="translate(536.93,252.00) scale(0.93,1)" font-size="22" text-anchor="middle" fill="#0a2fa0" stroke="#0a2fa0" stroke-width="1.0">I</text>
<text class="m" transform="translate(549.14,252.00) scale(0.93,1)" font-size="22" text-anchor="middle" fill="#0a2fa0" stroke="#0a2fa0" stroke-width="1.0">F</text>
<text class="m" transform="translate(561.35,252.00) scale(0.93,1)" font-size="22" text-anchor="middle" fill="#0a2fa0" stroke="#0a2fa0" stroke-width="1.0">L</text>
<text class="m" transform="translate(573.57,252.00) scale(0.93,1)" font-size="22" text-anchor="middle" fill="#0a2fa0" stroke="#0a2fa0" stroke-width="1.0">L</text>
<text class="m" transform="translate(585.78,252.00) scale(0.93,1)" font-size="22" text-anchor="middle" fill="#0a2fa0" stroke="#0a2fa0" stroke-width="1.0">V</text>
<text class="m" transform="translate(598.00,252.00) scale(0.93,1)" font-size="22" text-anchor="middle" fill="#0a2fa0" stroke="#0a2fa0" stroke-width="1.0">G</text>
<text class="m" transform="translate(610.21,252.00) scale(0.93,1)" font-size="22" text-anchor="middle" fill="#0a2fa0" stroke="#0a2fa0" stroke-width="1.0">H</text>
<text class="m" transform="translate(622.42,252.00) scale(0.93,1)" font-size="22" text-anchor="middle" fill="#0a2fa0" stroke="#0a2fa0" stroke-width="1.0">K</text>
<text class="m" transform="translate(634.64,252.00) scale(0.93,1)" font-size="22" text-anchor="middle" fill="#0a2fa0" stroke="#0a2fa0" stroke-width="1.0">S</text>
<text class="m" transform="translate(646.85,252.00) scale(0.93,1)" font-size="22" text-anchor="middle" fill="#0a2fa0" stroke="#0a2fa0" stroke-width="1.0">D</text>
<text class="m" transform="translate(659.07,252.00) scale(0.93,1)" font-size="22" text-anchor="middle" fill="#0a2fa0" stroke="#0a2fa0" stroke-width="1.0">L</text>
<text class="m" transform="translate(671.28,252.00) scale(0.93,1)" font-size="22" text-anchor="middle" fill="#0a2fa0" stroke="#0a2fa0" stroke-width="1.0">Q</text>
<text class="m" transform="translate(683.49,252.00) scale(0.93,1)" font-size="22" text-anchor="middle" fill="#0a2fa0" stroke="#0a2fa0" stroke-width="1.0">S</text>
<text class="m" transform="translate(695.71,252.00) scale(0.93,1)" font-size="22" text-anchor="middle" fill="#4a7aa6" stroke="#4a7aa6" stroke-width="1.0">T</text>
<text class="m" transform="translate(707.92,252.00) scale(0.93,1)" font-size="22" text-anchor="middle" fill="#0a2fa0" stroke="#0a2fa0" stroke-width="1.0">R</text>
<text class="m" transform="translate(720.14,252.00) scale(0.93,1)" font-size="22" text-anchor="middle" fill="#0a2fa0" stroke="#0a2fa0" stroke-width="1.0">C</text>
<text class="m" transform="translate(732.35,252.00) scale(0.93,1)" font-size="22" text-anchor="middle" fill="#0a2fa0" stroke="#0a2fa0" stroke-width="1.0">V</text>
<text class="m" transform="translate(744.56,252.00) scale(0.93,1)" font-size="22" text-anchor="middle" fill="#0a2fa0" stroke="#0a2fa0" stroke-width="1.0">S</text>
<text class="m" transform="translate(756.78,252.00) scale(0.93,1)" font-size="22" text-anchor="middle" fill="#4a78a6" stroke="#4a78a6" stroke-width="1.0">A</text>
<text class="m" transform="translate(768.99,252.00) scale(0.93,1)" font-size="22" text-anchor="middle" fill="#0a2fa0" stroke="#0a2fa0" stroke-width="1.0">Q</text>
<text class="m" transform="translate(781.21,252.00) scale(0.93,1)" font-size="22" text-anchor="middle" fill="#0a2fa0" stroke="#0a2fa0" stroke-width="1.0">E</text>
<text class="m" transform="translate(793.42,252.00) scale(0.93,1)" font-size="22" text-anchor="middle" fill="#4a78a6" stroke="#4a78a6" stroke-width="1.0">A</text>
<text class="m" transform="translate(805.63,252.00) scale(0.93,1)" font-size="22" text-anchor="middle" fill="#4a78a6" stroke="#4a78a6" stroke-width="1.0">E</text>
<text class="m" transform="translate(817.85,252.00) scale(0.93,1)" font-size="22" text-anchor="middle" fill="#0a2fa0" stroke="#0a2fa0" stroke-width="1.0">E</text>
<text class="m" transform="translate(830.06,252.00) scale(0.93,1)" font-size="22" text-anchor="middle" fill="#0a2fa0" stroke="#0a2fa0" stroke-width="1.0">L</text>
<text class="m" transform="translate(842.28,252.00) scale(0.93,1)" font-size="22" text-anchor="middle" fill="#0a2fa0" stroke="#0a2fa0" stroke-width="1.0">A</text>
<text class="m" transform="translate(854.49,252.00) scale(0.93,1)" font-size="22" text-anchor="middle" fill="#0a2fa0" stroke="#0a2fa0" stroke-width="1.0">A</text>
<text class="m" transform="translate(866.70,252.00) scale(0.93,1)" font-size="22" text-anchor="middle" fill="#0a2fa0" stroke="#0a2fa0" stroke-width="1.0">S</text>
<text class="m" transform="translate(878.92,252.00) scale(0.93,1)" font-size="22" text-anchor="middle" fill="#0a2fa0" stroke="#0a2fa0" stroke-width="1.0">L</text>
<text class="m" transform="translate(891.13,252.00) scale(0.93,1)" font-size="22" text-anchor="middle" fill="#0a2fa0" stroke="#0a2fa0" stroke-width="1.0">G</text>
<text class="m" transform="translate(903.35,252.00) scale(0.93,1)" font-size="22" text-anchor="middle" fill="#0a2fa0" stroke="#0a2fa0" stroke-width="1.0">M</text>
<text class="m" transform="translate(915.56,252.00) scale(0.93,1)" font-size="22" text-anchor="middle" fill="#0a2fa0" stroke="#0a2fa0" stroke-width="1.0">A</text>
<text class="m" transform="translate(927.77,252.00) scale(0.93,1)" font-size="22" text-anchor="middle" fill="#0a2fa0" stroke="#0a2fa0" stroke-width="1.0">F</text>
<text class="m" transform="translate(939.99,252.00) scale(0.93,1)" font-size="22" text-anchor="middle" fill="#2a5aa8" stroke="#2a5aa8" stroke-width="1.0">V</text>
<text class="m" transform="translate(952.20,252.00) scale(0.93,1)" font-size="22" text-anchor="middle" fill="#0a2fa0" stroke="#0a2fa0" stroke-width="1.0">E</text>
<text class="m" transform="translate(964.42,252.00) scale(0.93,1)" font-size="22" text-anchor="middle" fill="#0a2fa0" stroke="#0a2fa0" stroke-width="1.0">T</text>
<text class="m" transform="translate(976.63,252.00) scale(0.93,1)" font-size="22" text-anchor="middle" fill="#0a2fa0" stroke="#0a2fa0" stroke-width="1.0">S</text>
<text class="m" transform="translate(988.84,252.00) scale(0.93,1)" font-size="22" text-anchor="middle" fill="#4a7aa6" stroke="#4a7aa6" stroke-width="1.0">V</text>
<text class="m" transform="translate(1001.06,252.00) scale(0.93,1)" font-size="22" text-anchor="middle" fill="#0a2fa0" stroke="#0a2fa0" stroke-width="1.0">K</text>
<text class="m" transform="translate(1013.27,252.00) scale(0.93,1)" font-size="22" text-anchor="middle" fill="#5080a2" stroke="#5080a2" stroke-width="1.0">N</text>
<text class="m" transform="translate(1025.49,252.00) scale(0.93,1)" font-size="22" text-anchor="middle" fill="#0a2fa0" stroke="#0a2fa0" stroke-width="1.0">N</text>
<text class="m" transform="translate(1037.70,252.00) scale(0.93,1)" font-size="22" text-anchor="middle" fill="#5a8aa2" stroke="#5a8aa2" stroke-width="1.0">C</text>
<text class="m" transform="translate(1049.91,252.00) scale(0.93,1)" font-size="22" text-anchor="middle" fill="#0a2fa0" stroke="#0a2fa0" stroke-width="1.0">N</text>
<text class="m" transform="translate(1062.13,252.00) scale(0.93,1)" font-size="22" text-anchor="middle" fill="#0a2fa0" stroke="#0a2fa0" stroke-width="1.0">V</text>
<text class="m" transform="translate(1074.34,252.00) scale(0.93,1)" font-size="22" text-anchor="middle" fill="#5585a2" stroke="#5585a2" stroke-width="1.0">D</text>
<text class="m" transform="translate(1086.56,252.00) scale(0.93,1)" font-size="22" text-anchor="middle" fill="#0a2fa0" stroke="#0a2fa0" stroke-width="1.0">L</text>
<text class="m" transform="translate(1098.77,252.00) scale(0.93,1)" font-size="22" text-anchor="middle" fill="#0a2fa0" stroke="#0a2fa0" stroke-width="1.0">A</text>
<text class="m" transform="translate(1110.98,252.00) scale(0.93,1)" font-size="22" text-anchor="middle" fill="#0a2fa0" stroke="#0a2fa0" stroke-width="1.0">F</text>
<text class="m" transform="translate(1123.20,252.00) scale(0.93,1)" font-size="22" text-anchor="middle" fill="#0a2fa0" stroke="#0a2fa0" stroke-width="1.0">D</text>
<text class="m" transform="translate(1135.41,252.00) scale(0.93,1)" font-size="22" text-anchor="middle" fill="#7aae98" stroke="#7aae98" stroke-width="1.0">T</text>
<text class="m" transform="translate(1147.63,252.00) scale(0.93,1)" font-size="22" text-anchor="middle" fill="#0a2fa0" stroke="#0a2fa0" stroke-width="1.0">L</text>
<text class="m" transform="translate(1159.84,252.00) scale(0.93,1)" font-size="22" text-anchor="middle" fill="#4573a6" stroke="#4573a6" stroke-width="1.0">A</text>
<text class="m" transform="translate(1172.05,252.00) scale(0.93,1)" font-size="22" text-anchor="middle" fill="#7cb098" stroke="#7cb098" stroke-width="1.0">D</text>
<text class="m" transform="translate(1184.27,252.00) scale(0.93,1)" font-size="22" text-anchor="middle" fill="#4573a6" stroke="#4573a6" stroke-width="1.0">A</text>
<text class="m" transform="translate(1196.48,252.00) scale(0.93,1)" font-size="22" text-anchor="middle" fill="#0a2fa0" stroke="#0a2fa0" stroke-width="1.0">I</text>
<text class="m" transform="translate(1208.70,252.00) scale(0.93,1)" font-size="22" text-anchor="middle" fill="#0a2fa0" stroke="#0a2fa0" stroke-width="1.0">Q</text>
<text class="m" transform="translate(1220.91,252.00) scale(0.93,1)" font-size="22" text-anchor="middle" fill="#0a2fa0" stroke="#0a2fa0" stroke-width="1.0">Q</text>
<text class="m" transform="translate(1233.12,252.00) scale(0.93,1)" font-size="22" text-anchor="middle" fill="#0a2fa0" stroke="#0a2fa0" stroke-width="1.0">A</text>
<text class="m" transform="translate(1245.34,252.00) scale(0.93,1)" font-size="22" text-anchor="middle" fill="#0a2fa0" stroke="#0a2fa0" stroke-width="1.0">L</text>
<text class="m" transform="translate(1257.55,252.00) scale(0.93,1)" font-size="22" text-anchor="middle" fill="#3a6aa8" stroke="#3a6aa8" stroke-width="1.0">Q</text>
<text class="m" transform="translate(1269.77,252.00) scale(0.93,1)" font-size="22" text-anchor="middle" fill="#0a2fa0" stroke="#0a2fa0" stroke-width="1.0">Q</text>
<text class="m" transform="translate(1281.98,252.00) scale(0.93,1)" font-size="22" text-anchor="middle" fill="#0a2fa0" stroke="#0a2fa0" stroke-width="1.0">G</text>
<text class="m" transform="translate(1294.19,252.00) scale(0.93,1)" font-size="22" text-anchor="middle" fill="#0a2fa0" stroke="#0a2fa0" stroke-width="1.0">D</text>
<text class="m" transform="translate(1306.41,252.00) scale(0.93,1)" font-size="22" text-anchor="middle" fill="#0a2fa0" stroke="#0a2fa0" stroke-width="1.0">I</text>
<text class="m" transform="translate(1318.62,252.00) scale(0.93,1)" font-size="22" text-anchor="middle" fill="#0a2fa0" stroke="#0a2fa0" stroke-width="1.0">K</text>
<text class="m" transform="translate(1330.84,252.00) scale(0.93,1)" font-size="22" text-anchor="middle" fill="#0a2fa0" stroke="#0a2fa0" stroke-width="1.0">L</text>
<text class="m" transform="translate(1343.05,252.00) scale(0.93,1)" font-size="22" text-anchor="middle" fill="#0a2fa0" stroke="#0a2fa0" stroke-width="1.0">E</text>
<text class="m" transform="translate(1355.26,252.00) scale(0.93,1)" font-size="22" text-anchor="middle" fill="#0a2fa0" stroke="#0a2fa0" stroke-width="1.0">E</text>
<text class="m" transform="translate(1367.48,252.00) scale(0.93,1)" font-size="22" text-anchor="middle" fill="#8cbe9c" stroke="#8cbe9c" stroke-width="1.0">G</text>
<text class="m" transform="translate(1379.69,252.00) scale(0.93,1)" font-size="22" text-anchor="middle" fill="#5585a2" stroke="#5585a2" stroke-width="1.0">W</text>
<text class="m" transform="translate(1391.91,252.00) scale(0.93,1)" font-size="22" text-anchor="middle" fill="#0a2fa0" stroke="#0a2fa0" stroke-width="1.0">G</text>
<text class="m" transform="translate(1404.12,252.00) scale(0.93,1)" font-size="22" text-anchor="middle" fill="#0a2fa0" stroke="#0a2fa0" stroke-width="1.0">G</text>
<text class="m" transform="translate(1416.33,252.00) scale(0.93,1)" font-size="22" text-anchor="middle" fill="#0a2fa0" stroke="#0a2fa0" stroke-width="1.0">V</text>
<text class="m" transform="translate(1428.55,252.00) scale(0.93,1)" font-size="22" text-anchor="middle" fill="#0a2fa0" stroke="#0a2fa0" stroke-width="1.0">R</text>
<text class="m" transform="translate(1440.76,252.00) scale(0.93,1)" font-size="22" text-anchor="middle" fill="#4a7aa6" stroke="#4a7aa6" stroke-width="1.0">L</text>
<text class="m" transform="translate(1452.98,252.00) scale(0.93,1)" font-size="22" text-anchor="middle" fill="#0a2fa0" stroke="#0a2fa0" stroke-width="1.0">I</text>
<text class="m" transform="translate(1465.19,252.00) scale(0.93,1)" font-size="22" text-anchor="middle" fill="#4573a6" stroke="#4573a6" stroke-width="1.0">H</text>
<text class="m" transform="translate(1477.40,252.00) scale(0.93,1)" font-size="22" text-anchor="middle" fill="#4573a6" stroke="#4573a6" stroke-width="1.0">K</text>
<text class="m" transform="translate(1489.62,252.00) scale(0.93,1)" font-size="22" text-anchor="middle" fill="#4876a6" stroke="#4876a6" stroke-width="1.0">T</text>
<text class="m" transform="translate(1501.83,252.00) scale(0.93,1)" font-size="22" text-anchor="middle" fill="#5888a4" stroke="#5888a4" stroke-width="1.0">Q</text>
<text class="m" transform="translate(1514.05,252.00) scale(0.93,1)" font-size="22" text-anchor="middle" fill="#0a2fa0" stroke="#0a2fa0" stroke-width="1.0">I</text>
<text class="m" transform="translate(1526.26,252.00) scale(0.93,1)" font-size="22" text-anchor="middle" fill="#5888a4" stroke="#5888a4" stroke-width="1.0">P</text>
<text class="m" transform="translate(1538.47,252.00) scale(0.93,1)" font-size="22" text-anchor="middle" fill="#0a2fa0" stroke="#0a2fa0" stroke-width="1.0">R</text>
<text class="m" transform="translate(1550.69,252.00) scale(0.93,1)" font-size="22" text-anchor="middle" fill="#0a2fa0" stroke="#0a2fa0" stroke-width="1.0">S</text>
<text class="m" transform="translate(1562.90,252.00) scale(0.93,1)" font-size="22" text-anchor="middle" fill="#5888a4" stroke="#5888a4" stroke-width="1.0">P</text>
<text class="m" transform="translate(1575.12,252.00) scale(0.93,1)" font-size="22" text-anchor="middle" fill="#0a2fa0" stroke="#0a2fa0" stroke-width="1.0">S</text>
<text class="m" transform="translate(1587.33,252.00) scale(0.93,1)" font-size="22" text-anchor="middle" fill="#0a2fa0" stroke="#0a2fa0" stroke-width="1.0">R</text>
<text class="m" transform="translate(1599.54,252.00) scale(0.93,1)" font-size="22" text-anchor="middle" fill="#0a2fa0" stroke="#0a2fa0" stroke-width="1.0">K</text>
<text class="m" transform="translate(1611.76,252.00) scale(0.93,1)" font-size="22" text-anchor="middle" fill="#0a2fa0" stroke="#0a2fa0" stroke-width="1.0">Q</text>
<text class="m" transform="translate(1623.97,252.00) scale(0.93,1)" font-size="22" text-anchor="middle" fill="#0a2fa0" stroke="#0a2fa0" stroke-width="1.0">H</text>
<text class="m" transform="translate(1636.19,252.00) scale(0.93,1)" font-size="22" text-anchor="middle" fill="#5585a2" stroke="#5585a2" stroke-width="1.0">P</text>
<text class="m" transform="translate(1648.40,252.00) scale(0.93,1)" font-size="22" text-anchor="middle" fill="#0a2fa0" stroke="#0a2fa0" stroke-width="1.0">G</text>
<text class="m" transform="translate(1660.61,252.00) scale(0.93,1)" font-size="22" text-anchor="middle" fill="#5888a4" stroke="#5888a4" stroke-width="1.0">P</text>
<text class="m" transform="translate(1672.83,252.00) scale(0.93,1)" font-size="22" text-anchor="middle" fill="#0a2fa0" stroke="#0a2fa0" stroke-width="1.0">C</text>
<text class="m" transform="translate(1685.04,252.00) scale(0.93,1)" font-size="22" text-anchor="middle" fill="#0a2fa0" stroke="#0a2fa0" stroke-width="1.0">Q</text>
<text class="m" transform="translate(1697.26,252.00) scale(0.93,1)" font-size="22" text-anchor="middle" fill="#0a2fa0" stroke="#0a2fa0" stroke-width="1.0">C</text>
<text class="m" transform="translate(427.00,293.60) scale(0.93,1)" font-size="22" text-anchor="middle" fill="#0a2fa0" stroke="#0a2fa0" stroke-width="1.0">M</text>
<text class="m" transform="translate(439.21,293.60) scale(0.93,1)" font-size="22" text-anchor="middle" fill="#2a5aa8" stroke="#2a5aa8" stroke-width="1.0">A</text>
<text class="m" transform="translate(451.43,293.60) scale(0.93,1)" font-size="22" text-anchor="middle" fill="#0a2fa0" stroke="#0a2fa0" stroke-width="1.0">T</text>
<text class="m" transform="translate(463.64,293.60) scale(0.93,1)" font-size="22" text-anchor="middle" fill="#0a2fa0" stroke="#0a2fa0" stroke-width="1.0">Q</text>
<text class="m" transform="translate(475.86,293.60) scale(0.93,1)" font-size="22" text-anchor="middle" fill="#0a2fa0" stroke="#0a2fa0" stroke-width="1.0">G</text>
<text class="m" transform="translate(488.07,293.60) scale(0.93,1)" font-size="22" text-anchor="middle" fill="#0a2fa0" stroke="#0a2fa0" stroke-width="1.0">P</text>
<text class="m" transform="translate(500.28,293.60) scale(0.93,1)" font-size="22" text-anchor="middle" fill="#4f7ea6" stroke="#4f7ea6" stroke-width="1.0">D</text>
<text class="m" transform="translate(512.50,293.60) scale(0.93,1)" font-size="22" text-anchor="middle" fill="#0a2fa0" stroke="#0a2fa0" stroke-width="1.0">K</text>
<text class="m" transform="translate(524.71,293.60) scale(0.93,1)" font-size="22" text-anchor="middle" fill="#4a7aa6" stroke="#4a7aa6" stroke-width="1.0">V</text>
<text class="m" transform="translate(536.93,293.60) scale(0.93,1)" font-size="22" text-anchor="middle" fill="#0a2fa0" stroke="#0a2fa0" stroke-width="1.0">I</text>
<text class="m" transform="translate(549.14,293.60) scale(0.93,1)" font-size="22" text-anchor="middle" fill="#0a2fa0" stroke="#0a2fa0" stroke-width="1.0">F</text>
<text class="m" transform="translate(561.35,293.60) scale(0.93,1)" font-size="22" text-anchor="middle" fill="#0a2fa0" stroke="#0a2fa0" stroke-width="1.0">L</text>
<text class="m" transform="translate(573.57,293.60) scale(0.93,1)" font-size="22" text-anchor="middle" fill="#0a2fa0" stroke="#0a2fa0" stroke-width="1.0">L</text>
<text class="m" transform="translate(585.78,293.60) scale(0.93,1)" font-size="22" text-anchor="middle" fill="#0a2fa0" stroke="#0a2fa0" stroke-width="1.0">V</text>
<text class="m" transform="translate(598.00,293.60) scale(0.93,1)" font-size="22" text-anchor="middle" fill="#0a2fa0" stroke="#0a2fa0" stroke-width="1.0">G</text>
<text class="m" transform="translate(610.21,293.60) scale(0.93,1)" font-size="22" text-anchor="middle" fill="#0a2fa0" stroke="#0a2fa0" stroke-width="1.0">H</text>
<text class="m" transform="translate(622.42,293.60) scale(0.93,1)" font-size="22" text-anchor="middle" fill="#0a2fa0" stroke="#0a2fa0" stroke-width="1.0">K</text>
<text class="m" transform="translate(634.64,293.60) scale(0.93,1)" font-size="22" text-anchor="middle" fill="#0a2fa0" stroke="#0a2fa0" stroke-width="1.0">S</text>
<text class="m" transform="translate(646.85,293.60) scale(0.93,1)" font-size="22" text-anchor="middle" fill="#0a2fa0" stroke="#0a2fa0" stroke-width="1.0">D</text>
<text class="m" transform="translate(659.07,293.60) scale(0.93,1)" font-size="22" text-anchor="middle" fill="#0a2fa0" stroke="#0a2fa0" stroke-width="1.0">L</text>
<text class="m" transform="translate(671.28,293.60) scale(0.93,1)" font-size="22" text-anchor="middle" fill="#0a2fa0" stroke="#0a2fa0" stroke-width="1.0">Q</text>
<text class="m" transform="translate(683.49,293.60) scale(0.93,1)" font-size="22" text-anchor="middle" fill="#0a2fa0" stroke="#0a2fa0" stroke-width="1.0">S</text>
<text class="m" transform="translate(695.71,293.60) scale(0.93,1)" font-size="22" text-anchor="middle" fill="#4a7aa6" stroke="#4a7aa6" stroke-width="1.0">A</text>
<text class="m" transform="translate(707.92,293.60) scale(0.93,1)" font-size="22" text-anchor="middle" fill="#0a2fa0" stroke="#0a2fa0" stroke-width="1.0">R</text>
<text class="m" transform="translate(720.14,293.60) scale(0.93,1)" font-size="22" text-anchor="middle" fill="#0a2fa0" stroke="#0a2fa0" stroke-width="1.0">C</text>
<text class="m" transform="translate(732.35,293.60) scale(0.93,1)" font-size="22" text-anchor="middle" fill="#0a2fa0" stroke="#0a2fa0" stroke-width="1.0">V</text>
<text class="m" transform="translate(744.56,293.60) scale(0.93,1)" font-size="22" text-anchor="middle" fill="#0a2fa0" stroke="#0a2fa0" stroke-width="1.0">S</text>
<text class="m" transform="translate(756.78,293.60) scale(0.93,1)" font-size="22" text-anchor="middle" fill="#4a78a6" stroke="#4a78a6" stroke-width="1.0">A</text>
<text class="m" transform="translate(768.99,293.60) scale(0.93,1)" font-size="22" text-anchor="middle" fill="#0a2fa0" stroke="#0a2fa0" stroke-width="1.0">Q</text>
<text class="m" transform="translate(781.21,293.60) scale(0.93,1)" font-size="22" text-anchor="middle" fill="#0a2fa0" stroke="#0a2fa0" stroke-width="1.0">E</text>
<text class="m" transform="translate(793.42,293.60) scale(0.93,1)" font-size="22" text-anchor="middle" fill="#4a78a6" stroke="#4a78a6" stroke-width="1.0">A</text>
<text class="m" transform="translate(805.63,293.60) scale(0.93,1)" font-size="22" text-anchor="middle" fill="#4a78a6" stroke="#4a78a6" stroke-width="1.0">E</text>
<text class="m" transform="translate(817.85,293.60) scale(0.93,1)" font-size="22" text-anchor="middle" fill="#0a2fa0" stroke="#0a2fa0" stroke-width="1.0">E</text>
<text class="m" transform="translate(830.06,293.60) scale(0.93,1)" font-size="22" text-anchor="middle" fill="#0a2fa0" stroke="#0a2fa0" stroke-width="1.0">L</text>
<text class="m" transform="translate(842.28,293.60) scale(0.93,1)" font-size="22" text-anchor="middle" fill="#0a2fa0" stroke="#0a2fa0" stroke-width="1.0">A</text>
<text class="m" transform="translate(854.49,293.60) scale(0.93,1)" font-size="22" text-anchor="middle" fill="#0a2fa0" stroke="#0a2fa0" stroke-width="1.0">A</text>
<text class="m" transform="translate(866.70,293.60) scale(0.93,1)" font-size="22" text-anchor="middle" fill="#0a2fa0" stroke="#0a2fa0" stroke-width="1.0">S</text>
<text class="m" transform="translate(878.92,293.60) scale(0.93,1)" font-size="22" text-anchor="middle" fill="#0a2fa0" stroke="#0a2fa0" stroke-width="1.0">L</text>
<text class="m" transform="translate(891.13,293.60) scale(0.93,1)" font-size="22" text-anchor="middle" fill="#0a2fa0" stroke="#0a2fa0" stroke-width="1.0">G</text>
<text class="m" transform="translate(903.35,293.60) scale(0.93,1)" font-size="22" text-anchor="middle" fill="#0a2fa0" stroke="#0a2fa0" stroke-width="1.0">M</text>
<text class="m" transform="translate(915.56,293.60) scale(0.93,1)" font-size="22" text-anchor="middle" fill="#0a2fa0" stroke="#0a2fa0" stroke-width="1.0">A</text>
<text class="m" transform="translate(927.77,293.60) scale(0.93,1)" font-size="22" text-anchor="middle" fill="#0a2fa0" stroke="#0a2fa0" stroke-width="1.0">F</text>
<text class="m" transform="translate(939.99,293.60) scale(0.93,1)" font-size="22" text-anchor="middle" fill="#2a5aa8" stroke="#2a5aa8" stroke-width="1.0">V</text>
<text class="m" transform="translate(952.20,293.60) scale(0.93,1)" font-size="22" text-anchor="middle" fill="#0a2fa0" stroke="#0a2fa0" stroke-width="1.0">E</text>
<text class="m" transform="translate(964.42,293.60) scale(0.93,1)" font-size="22" text-anchor="middle" fill="#0a2fa0" stroke="#0a2fa0" stroke-width="1.0">T</text>
<text class="m" transform="translate(976.63,293.60) scale(0.93,1)" font-size="22" text-anchor="middle" fill="#0a2fa0" stroke="#0a2fa0" stroke-width="1.0">S</text>
<text class="m" transform="translate(988.84,293.60) scale(0.93,1)" font-size="22" text-anchor="middle" fill="#4a7aa6" stroke="#4a7aa6" stroke-width="1.0">V</text>
<text class="m" transform="translate(1001.06,293.60) scale(0.93,1)" font-size="22" text-anchor="middle" fill="#0a2fa0" stroke="#0a2fa0" stroke-width="1.0">K</text>
<text class="m" transform="translate(1013.27,293.60) scale(0.93,1)" font-size="22" text-anchor="middle" fill="#5080a2" stroke="#5080a2" stroke-width="1.0">N</text>
<text class="m" transform="translate(1025.49,293.60) scale(0.93,1)" font-size="22" text-anchor="middle" fill="#0a2fa0" stroke="#0a2fa0" stroke-width="1.0">N</text>
<text class="m" transform="translate(1037.70,293.60) scale(0.93,1)" font-size="22" text-anchor="middle" fill="#5a8aa2" stroke="#5a8aa2" stroke-width="1.0">C</text>
<text class="m" transform="translate(1049.91,293.60) scale(0.93,1)" font-size="22" text-anchor="middle" fill="#0a2fa0" stroke="#0a2fa0" stroke-width="1.0">N</text>
<text class="m" transform="translate(1062.13,293.60) scale(0.93,1)" font-size="22" text-anchor="middle" fill="#0a2fa0" stroke="#0a2fa0" stroke-width="1.0">V</text>
<text class="m" transform="translate(1074.34,293.60) scale(0.93,1)" font-size="22" text-anchor="middle" fill="#5585a2" stroke="#5585a2" stroke-width="1.0">D</text>
<text class="m" transform="translate(1086.56,293.60) scale(0.93,1)" font-size="22" text-anchor="middle" fill="#0a2fa0" stroke="#0a2fa0" stroke-width="1.0">L</text>
<text class="m" transform="translate(1098.77,293.60) scale(0.93,1)" font-size="22" text-anchor="middle" fill="#0a2fa0" stroke="#0a2fa0" stroke-width="1.0">A</text>
<text class="m" transform="translate(1110.98,293.60) scale(0.93,1)" font-size="22" text-anchor="middle" fill="#0a2fa0" stroke="#0a2fa0" stroke-width="1.0">F</text>
<text class="m" transform="translate(1123.20,293.60) scale(0.93,1)" font-size="22" text-anchor="middle" fill="#0a2fa0" stroke="#0a2fa0" stroke-width="1.0">D</text>
<text class="m" transform="translate(1135.41,293.60) scale(0.93,1)" font-size="22" text-anchor="middle" fill="#7aae98" stroke="#7aae98" stroke-width="1.0">T</text>
<text class="m" transform="translate(1147.63,293.60) scale(0.93,1)" font-size="22" text-anchor="middle" fill="#0a2fa0" stroke="#0a2fa0" stroke-width="1.0">L</text>
<text class="m" transform="translate(1159.84,293.60) scale(0.93,1)" font-size="22" text-anchor="middle" fill="#4573a6" stroke="#4573a6" stroke-width="1.0">A</text>
<text class="m" transform="translate(1172.05,293.60) scale(0.93,1)" font-size="22" text-anchor="middle" fill="#7cb098" stroke="#7cb098" stroke-width="1.0">D</text>
<text class="m" transform="translate(1184.27,293.60) scale(0.93,1)" font-size="22" text-anchor="middle" fill="#4573a6" stroke="#4573a6" stroke-width="1.0">A</text>
<text class="m" transform="translate(1196.48,293.60) scale(0.93,1)" font-size="22" text-anchor="middle" fill="#0a2fa0" stroke="#0a2fa0" stroke-width="1.0">I</text>
<text class="m" transform="translate(1208.70,293.60) scale(0.93,1)" font-size="22" text-anchor="middle" fill="#0a2fa0" stroke="#0a2fa0" stroke-width="1.0">Q</text>
<text class="m" transform="translate(1220.91,293.60) scale(0.93,1)" font-size="22" text-anchor="middle" fill="#0a2fa0" stroke="#0a2fa0" stroke-width="1.0">Q</text>
<text class="m" transform="translate(1233.12,293.60) scale(0.93,1)" font-size="22" text-anchor="middle" fill="#0a2fa0" stroke="#0a2fa0" stroke-width="1.0">A</text>
<text class="m" transform="translate(1245.34,293.60) scale(0.93,1)" font-size="22" text-anchor="middle" fill="#0a2fa0" stroke="#0a2fa0" stroke-width="1.0">L</text>
<text class="m" transform="translate(1257.55,293.60) scale(0.93,1)" font-size="22" text-anchor="middle" fill="#3a6aa8" stroke="#3a6aa8" stroke-width="1.0">K</text>
<text class="m" transform="translate(1269.77,293.60) scale(0.93,1)" font-size="22" text-anchor="middle" fill="#0a2fa0" stroke="#0a2fa0" stroke-width="1.0">Q</text>
<text class="m" transform="translate(1281.98,293.60) scale(0.93,1)" font-size="22" text-anchor="middle" fill="#0a2fa0" stroke="#0a2fa0" stroke-width="1.0">G</text>
<text class="m" transform="translate(1294.19,293.60) scale(0.93,1)" font-size="22" text-anchor="middle" fill="#0a2fa0" stroke="#0a2fa0" stroke-width="1.0">D</text>
<text class="m" transform="translate(1306.41,293.60) scale(0.93,1)" font-size="22" text-anchor="middle" fill="#0a2fa0" stroke="#0a2fa0" stroke-width="1.0">I</text>
<text class="m" transform="translate(1318.62,293.60) scale(0.93,1)" font-size="22" text-anchor="middle" fill="#0a2fa0" stroke="#0a2fa0" stroke-width="1.0">K</text>
<text class="m" transform="translate(1330.84,293.60) scale(0.93,1)" font-size="22" text-anchor="middle" fill="#0a2fa0" stroke="#0a2fa0" stroke-width="1.0">L</text>
<text class="m" transform="translate(1343.05,293.60) scale(0.93,1)" font-size="22" text-anchor="middle" fill="#0a2fa0" stroke="#0a2fa0" stroke-width="1.0">E</text>
<text class="m" transform="translate(1355.26,293.60) scale(0.93,1)" font-size="22" text-anchor="middle" fill="#0a2fa0" stroke="#0a2fa0" stroke-width="1.0">E</text>
<text class="m" transform="translate(1367.48,293.60) scale(0.93,1)" font-size="22" text-anchor="middle" fill="#8cbe9c" stroke="#8cbe9c" stroke-width="1.0">G</text>
<text class="m" transform="translate(1379.69,293.60) scale(0.93,1)" font-size="22" text-anchor="middle" fill="#5585a2" stroke="#5585a2" stroke-width="1.0">W</text>
<text class="m" transform="translate(1391.91,293.60) scale(0.93,1)" font-size="22" text-anchor="middle" fill="#0a2fa0" stroke="#0a2fa0" stroke-width="1.0">G</text>
<text class="m" transform="translate(1404.12,293.60) scale(0.93,1)" font-size="22" text-anchor="middle" fill="#0a2fa0" stroke="#0a2fa0" stroke-width="1.0">G</text>
<text class="m" transform="translate(1416.33,293.60) scale(0.93,1)" font-size="22" text-anchor="middle" fill="#0a2fa0" stroke="#0a2fa0" stroke-width="1.0">V</text>
<text class="m" transform="translate(1428.55,293.60) scale(0.93,1)" font-size="22" text-anchor="middle" fill="#0a2fa0" stroke="#0a2fa0" stroke-width="1.0">R</text>
<text class="m" transform="translate(1440.76,293.60) scale(0.93,1)" font-size="22" text-anchor="middle" fill="#4a7aa6" stroke="#4a7aa6" stroke-width="1.0">L</text>
<text class="m" transform="translate(1452.98,293.60) scale(0.93,1)" font-size="22" text-anchor="middle" fill="#0a2fa0" stroke="#0a2fa0" stroke-width="1.0">I</text>
<text class="m" transform="translate(1465.19,293.60) scale(0.93,1)" font-size="22" text-anchor="middle" fill="#4573a6" stroke="#4573a6" stroke-width="1.0">Y</text>
<text class="m" transform="translate(1477.40,293.60) scale(0.93,1)" font-size="22" text-anchor="middle" fill="#4573a6" stroke="#4573a6" stroke-width="1.0">K</text>
<text class="m" transform="translate(1489.62,293.60) scale(0.93,1)" font-size="22" text-anchor="middle" fill="#4876a6" stroke="#4876a6" stroke-width="1.0">T</text>
<text class="m" transform="translate(1501.83,293.60) scale(0.93,1)" font-size="22" text-anchor="middle" fill="#5888a4" stroke="#5888a4" stroke-width="1.0">Q</text>
<text class="m" transform="translate(1514.05,293.60) scale(0.93,1)" font-size="22" text-anchor="middle" fill="#0a2fa0" stroke="#0a2fa0" stroke-width="1.0">I</text>
<text class="m" transform="translate(1526.26,293.60) scale(0.93,1)" font-size="22" text-anchor="middle" fill="#5888a4" stroke="#5888a4" stroke-width="1.0">P</text>
<text class="m" transform="translate(1538.47,293.60) scale(0.93,1)" font-size="22" text-anchor="middle" fill="#0a2fa0" stroke="#0a2fa0" stroke-width="1.0">R</text>
<text class="m" transform="translate(1550.69,293.60) scale(0.93,1)" font-size="22" text-anchor="middle" fill="#0a2fa0" stroke="#0a2fa0" stroke-width="1.0">S</text>
<text class="m" transform="translate(1562.90,293.60) scale(0.93,1)" font-size="22" text-anchor="middle" fill="#5888a4" stroke="#5888a4" stroke-width="1.0">P</text>
<text class="m" transform="translate(1575.12,293.60) scale(0.93,1)" font-size="22" text-anchor="middle" fill="#0a2fa0" stroke="#0a2fa0" stroke-width="1.0">S</text>
<text class="m" transform="translate(1587.33,293.60) scale(0.93,1)" font-size="22" text-anchor="middle" fill="#0a2fa0" stroke="#0a2fa0" stroke-width="1.0">R</text>
<text class="m" transform="translate(1599.54,293.60) scale(0.93,1)" font-size="22" text-anchor="middle" fill="#0a2fa0" stroke="#0a2fa0" stroke-width="1.0">K</text>
<text class="m" transform="translate(1611.76,293.60) scale(0.93,1)" font-size="22" text-anchor="middle" fill="#0a2fa0" stroke="#0a2fa0" stroke-width="1.0">Q</text>
<text class="m" transform="translate(1623.97,293.60) scale(0.93,1)" font-size="22" text-anchor="middle" fill="#0a2fa0" stroke="#0a2fa0" stroke-width="1.0">H</text>
<text class="m" transform="translate(1636.19,293.60) scale(0.93,1)" font-size="22" text-anchor="middle" fill="#5585a2" stroke="#5585a2" stroke-width="1.0">P</text>
<text class="m" transform="translate(1648.40,293.60) scale(0.93,1)" font-size="22" text-anchor="middle" fill="#0a2fa0" stroke="#0a2fa0" stroke-width="1.0">G</text>
<text class="m" transform="translate(1660.61,293.60) scale(0.93,1)" font-size="22" text-anchor="middle" fill="#5888a4" stroke="#5888a4" stroke-width="1.0">P</text>
<text class="m" transform="translate(1672.83,293.60) scale(0.93,1)" font-size="22" text-anchor="middle" fill="#0a2fa0" stroke="#0a2fa0" stroke-width="1.0">C</text>
<text class="m" transform="translate(1685.04,293.60) scale(0.93,1)" font-size="22" text-anchor="middle" fill="#0a2fa0" stroke="#0a2fa0" stroke-width="1.0">Q</text>
<text class="m" transform="translate(1697.26,293.60) scale(0.93,1)" font-size="22" text-anchor="middle" fill="#0a2fa0" stroke="#0a2fa0" stroke-width="1.0">C</text>
<text class="m" transform="translate(427.00,335.20) scale(0.93,1)" font-size="22" text-anchor="middle" fill="#0a2fa0" stroke="#0a2fa0" stroke-width="1.0">M</text>
<text class="m" transform="translate(439.21,335.20) scale(0.93,1)" font-size="22" text-anchor="middle" fill="#2a5aa8" stroke="#2a5aa8" stroke-width="1.0">A</text>
<text class="m" transform="translate(451.43,335.20) scale(0.93,1)" font-size="22" text-anchor="middle" fill="#0a2fa0" stroke="#0a2fa0" stroke-width="1.0">T</text>
<text class="m" transform="translate(463.64,335.20) scale(0.93,1)" font-size="22" text-anchor="middle" fill="#0a2fa0" stroke="#0a2fa0" stroke-width="1.0">Q</text>
<text class="m" transform="translate(475.86,335.20) scale(0.93,1)" font-size="22" text-anchor="middle" fill="#0a2fa0" stroke="#0a2fa0" stroke-width="1.0">G</text>
<text class="m" transform="translate(488.07,335.20) scale(0.93,1)" font-size="22" text-anchor="middle" fill="#0a2fa0" stroke="#0a2fa0" stroke-width="1.0">P</text>
<text class="m" transform="translate(500.28,335.20) scale(0.93,1)" font-size="22" text-anchor="middle" fill="#4f7ea6" stroke="#4f7ea6" stroke-width="1.0">D</text>
<text class="m" transform="translate(512.50,335.20) scale(0.93,1)" font-size="22" text-anchor="middle" fill="#0a2fa0" stroke="#0a2fa0" stroke-width="1.0">K</text>
<text class="m" transform="translate(524.71,335.20) scale(0.93,1)" font-size="22" text-anchor="middle" fill="#4a7aa6" stroke="#4a7aa6" stroke-width="1.0">V</text>
<text class="m" transform="translate(536.93,335.20) scale(0.93,1)" font-size="22" text-anchor="middle" fill="#0a2fa0" stroke="#0a2fa0" stroke-width="1.0">I</text>
<text class="m" transform="translate(549.14,335.20) scale(0.93,1)" font-size="22" text-anchor="middle" fill="#0a2fa0" stroke="#0a2fa0" stroke-width="1.0">F</text>
<text class="m" transform="translate(561.35,335.20) scale(0.93,1)" font-size="22" text-anchor="middle" fill="#0a2fa0" stroke="#0a2fa0" stroke-width="1.0">L</text>
<text class="m" transform="translate(573.57,335.20) scale(0.93,1)" font-size="22" text-anchor="middle" fill="#0a2fa0" stroke="#0a2fa0" stroke-width="1.0">L</text>
<text class="m" transform="translate(585.78,335.20) scale(0.93,1)" font-size="22" text-anchor="middle" fill="#0a2fa0" stroke="#0a2fa0" stroke-width="1.0">V</text>
<text class="m" transform="translate(598.00,335.20) scale(0.93,1)" font-size="22" text-anchor="middle" fill="#0a2fa0" stroke="#0a2fa0" stroke-width="1.0">G</text>
<text class="m" transform="translate(610.21,335.20) scale(0.93,1)" font-size="22" text-anchor="middle" fill="#0a2fa0" stroke="#0a2fa0" stroke-width="1.0">H</text>
<text class="m" transform="translate(622.42,335.20) scale(0.93,1)" font-size="22" text-anchor="middle" fill="#0a2fa0" stroke="#0a2fa0" stroke-width="1.0">K</text>
<text class="m" transform="translate(634.64,335.20) scale(0.93,1)" font-size="22" text-anchor="middle" fill="#0a2fa0" stroke="#0a2fa0" stroke-width="1.0">S</text>
<text class="m" transform="translate(646.85,335.20) scale(0.93,1)" font-size="22" text-anchor="middle" fill="#0a2fa0" stroke="#0a2fa0" stroke-width="1.0">D</text>
<text class="m" transform="translate(659.07,335.20) scale(0.93,1)" font-size="22" text-anchor="middle" fill="#0a2fa0" stroke="#0a2fa0" stroke-width="1.0">L</text>
<text class="m" transform="translate(671.28,335.20) scale(0.93,1)" font-size="22" text-anchor="middle" fill="#0a2fa0" stroke="#0a2fa0" stroke-width="1.0">Q</text>
<text class="m" transform="translate(683.49,335.20) scale(0.93,1)" font-size="22" text-anchor="middle" fill="#0a2fa0" stroke="#0a2fa0" stroke-width="1.0">S</text>
<text class="m" transform="translate(695.71,335.20) scale(0.93,1)" font-size="22" text-anchor="middle" fill="#4a7aa6" stroke="#4a7aa6" stroke-width="1.0">T</text>
<text class="m" transform="translate(707.92,335.20) scale(0.93,1)" font-size="22" text-anchor="middle" fill="#0a2fa0" stroke="#0a2fa0" stroke-width="1.0">R</text>
<text class="m" transform="translate(720.14,335.20) scale(0.93,1)" font-size="22" text-anchor="middle" fill="#0a2fa0" stroke="#0a2fa0" stroke-width="1.0">C</text>
<text class="m" transform="translate(732.35,335.20) scale(0.93,1)" font-size="22" text-anchor="middle" fill="#0a2fa0" stroke="#0a2fa0" stroke-width="1.0">V</text>
<text class="m" transform="translate(744.56,335.20) scale(0.93,1)" font-size="22" text-anchor="middle" fill="#0a2fa0" stroke="#0a2fa0" stroke-width="1.0">S</text>
<text class="m" transform="translate(756.78,335.20) scale(0.93,1)" font-size="22" text-anchor="middle" fill="#4a78a6" stroke="#4a78a6" stroke-width="1.0">A</text>
<text class="m" transform="translate(768.99,335.20) scale(0.93,1)" font-size="22" text-anchor="middle" fill="#0a2fa0" stroke="#0a2fa0" stroke-width="1.0">Q</text>
<text class="m" transform="translate(781.21,335.20) scale(0.93,1)" font-size="22" text-anchor="middle" fill="#0a2fa0" stroke="#0a2fa0" stroke-width="1.0">E</text>
<text class="m" transform="translate(793.42,335.20) scale(0.93,1)" font-size="22" text-anchor="middle" fill="#4a78a6" stroke="#4a78a6" stroke-width="1.0">A</text>
<text class="m" transform="translate(805.63,335.20) scale(0.93,1)" font-size="22" text-anchor="middle" fill="#4a78a6" stroke="#4a78a6" stroke-width="1.0">E</text>
<text class="m" transform="translate(817.85,335.20) scale(0.93,1)" font-size="22" text-anchor="middle" fill="#0a2fa0" stroke="#0a2fa0" stroke-width="1.0">E</text>
<text class="m" transform="translate(830.06,335.20) scale(0.93,1)" font-size="22" text-anchor="middle" fill="#0a2fa0" stroke="#0a2fa0" stroke-width="1.0">L</text>
<text class="m" transform="translate(842.28,335.20) scale(0.93,1)" font-size="22" text-anchor="middle" fill="#0a2fa0" stroke="#0a2fa0" stroke-width="1.0">A</text>
<text class="m" transform="translate(854.49,335.20) scale(0.93,1)" font-size="22" text-anchor="middle" fill="#0a2fa0" stroke="#0a2fa0" stroke-width="1.0">A</text>
<text class="m" transform="translate(866.70,335.20) scale(0.93,1)" font-size="22" text-anchor="middle" fill="#0a2fa0" stroke="#0a2fa0" stroke-width="1.0">S</text>
<text class="m" transform="translate(878.92,335.20) scale(0.93,1)" font-size="22" text-anchor="middle" fill="#0a2fa0" stroke="#0a2fa0" stroke-width="1.0">L</text>
<text class="m" transform="translate(891.13,335.20) scale(0.93,1)" font-size="22" text-anchor="middle" fill="#0a2fa0" stroke="#0a2fa0" stroke-width="1.0">G</text>
<text class="m" transform="translate(903.35,335.20) scale(0.93,1)" font-size="22" text-anchor="middle" fill="#0a2fa0" stroke="#0a2fa0" stroke-width="1.0">M</text>
<text class="m" transform="translate(915.56,335.20) scale(0.93,1)" font-size="22" text-anchor="middle" fill="#0a2fa0" stroke="#0a2fa0" stroke-width="1.0">A</text>
<text class="m" transform="translate(927.77,335.20) scale(0.93,1)" font-size="22" text-anchor="middle" fill="#0a2fa0" stroke="#0a2fa0" stroke-width="1.0">F</text>
<text class="m" transform="translate(939.99,335.20) scale(0.93,1)" font-size="22" text-anchor="middle" fill="#2a5aa8" stroke="#2a5aa8" stroke-width="1.0">V</text>
<text class="m" transform="translate(952.20,335.20) scale(0.93,1)" font-size="22" text-anchor="middle" fill="#0a2fa0" stroke="#0a2fa0" stroke-width="1.0">E</text>
<text class="m" transform="translate(964.42,335.20) scale(0.93,1)" font-size="22" text-anchor="middle" fill="#0a2fa0" stroke="#0a2fa0" stroke-width="1.0">T</text>
<text class="m" transform="translate(976.63,335.20) scale(0.93,1)" font-size="22" text-anchor="middle" fill="#0a2fa0" stroke="#0a2fa0" stroke-width="1.0">S</text>
<text class="m" transform="translate(988.84,335.20) scale(0.93,1)" font-size="22" text-anchor="middle" fill="#4a7aa6" stroke="#4a7aa6" stroke-width="1.0">V</text>
<text class="m" transform="translate(1001.06,335.20) scale(0.93,1)" font-size="22" text-anchor="middle" fill="#0a2fa0" stroke="#0a2fa0" stroke-width="1.0">K</text>
<text class="m" transform="translate(1013.27,335.20) scale(0.93,1)" font-size="22" text-anchor="middle" fill="#5080a2" stroke="#5080a2" stroke-width="1.0">N</text>
<text class="m" transform="translate(1025.49,335.20) scale(0.93,1)" font-size="22" text-anchor="middle" fill="#0a2fa0" stroke="#0a2fa0" stroke-width="1.0">N</text>
<text class="m" transform="translate(1037.70,335.20) scale(0.93,1)" font-size="22" text-anchor="middle" fill="#5a8aa2" stroke="#5a8aa2" stroke-width="1.0">C</text>
<text class="m" transform="translate(1049.91,335.20) scale(0.93,1)" font-size="22" text-anchor="middle" fill="#0a2fa0" stroke="#0a2fa0" stroke-width="1.0">N</text>
<text class="m" transform="translate(1062.13,335.20) scale(0.93,1)" font-size="22" text-anchor="middle" fill="#0a2fa0" stroke="#0a2fa0" stroke-width="1.0">V</text>
<text class="m" transform="translate(1074.34,335.20) scale(0.93,1)" font-size="22" text-anchor="middle" fill="#5585a2" stroke="#5585a2" stroke-width="1.0">D</text>
<text class="m" transform="translate(1086.56,335.20) scale(0.93,1)" font-size="22" text-anchor="middle" fill="#0a2fa0" stroke="#0a2fa0" stroke-width="1.0">L</text>
<text class="m" transform="translate(1098.77,335.20) scale(0.93,1)" font-size="22" text-anchor="middle" fill="#0a2fa0" stroke="#0a2fa0" stroke-width="1.0">A</text>
<text class="m" transform="translate(1110.98,335.20) scale(0.93,1)" font-size="22" text-anchor="middle" fill="#0a2fa0" stroke="#0a2fa0" stroke-width="1.0">F</text>
<text class="m" transform="translate(1123.20,335.20) scale(0.93,1)" font-size="22" text-anchor="middle" fill="#0a2fa0" stroke="#0a2fa0" stroke-width="1.0">D</text>
<text class="m" transform="translate(1135.41,335.20) scale(0.93,1)" font-size="22" text-anchor="middle" fill="#7aae98" stroke="#7aae98" stroke-width="1.0">I</text>
<text class="m" transform="translate(1147.63,335.20) scale(0.93,1)" font-size="22" text-anchor="middle" fill="#0a2fa0" stroke="#0a2fa0" stroke-width="1.0">L</text>
<text class="m" transform="translate(1159.84,335.20) scale(0.93,1)" font-size="22" text-anchor="middle" fill="#4573a6" stroke="#4573a6" stroke-width="1.0">A</text>
<text class="m" transform="translate(1172.05,335.20) scale(0.93,1)" font-size="22" text-anchor="middle" fill="#7cb098" stroke="#7cb098" stroke-width="1.0">D</text>
<text class="m" transform="translate(1184.27,335.20) scale(0.93,1)" font-size="22" text-anchor="middle" fill="#4573a6" stroke="#4573a6" stroke-width="1.0">A</text>
<text class="m" transform="translate(1196.48,335.20) scale(0.93,1)" font-size="22" text-anchor="middle" fill="#0a2fa0" stroke="#0a2fa0" stroke-width="1.0">I</text>
<text class="m" transform="translate(1208.70,335.20) scale(0.93,1)" font-size="22" text-anchor="middle" fill="#0a2fa0" stroke="#0a2fa0" stroke-width="1.0">Q</text>
<text class="m" transform="translate(1220.91,335.20) scale(0.93,1)" font-size="22" text-anchor="middle" fill="#0a2fa0" stroke="#0a2fa0" stroke-width="1.0">Q</text>
<text class="m" transform="translate(1233.12,335.20) scale(0.93,1)" font-size="22" text-anchor="middle" fill="#0a2fa0" stroke="#0a2fa0" stroke-width="1.0">A</text>
<text class="m" transform="translate(1245.34,335.20) scale(0.93,1)" font-size="22" text-anchor="middle" fill="#0a2fa0" stroke="#0a2fa0" stroke-width="1.0">L</text>
<text class="m" transform="translate(1257.55,335.20) scale(0.93,1)" font-size="22" text-anchor="middle" fill="#3a6aa8" stroke="#3a6aa8" stroke-width="1.0">Q</text>
<text class="m" transform="translate(1269.77,335.20) scale(0.93,1)" font-size="22" text-anchor="middle" fill="#0a2fa0" stroke="#0a2fa0" stroke-width="1.0">Q</text>
<text class="m" transform="translate(1281.98,335.20) scale(0.93,1)" font-size="22" text-anchor="middle" fill="#0a2fa0" stroke="#0a2fa0" stroke-width="1.0">G</text>
<text class="m" transform="translate(1294.19,335.20) scale(0.93,1)" font-size="22" text-anchor="middle" fill="#0a2fa0" stroke="#0a2fa0" stroke-width="1.0">D</text>
<text class="m" transform="translate(1306.41,335.20) scale(0.93,1)" font-size="22" text-anchor="middle" fill="#0a2fa0" stroke="#0a2fa0" stroke-width="1.0">I</text>
<text class="m" transform="translate(1318.62,335.20) scale(0.93,1)" font-size="22" text-anchor="middle" fill="#0a2fa0" stroke="#0a2fa0" stroke-width="1.0">K</text>
<text class="m" transform="translate(1330.84,335.20) scale(0.93,1)" font-size="22" text-anchor="middle" fill="#0a2fa0" stroke="#0a2fa0" stroke-width="1.0">L</text>
<text class="m" transform="translate(1343.05,335.20) scale(0.93,1)" font-size="22" text-anchor="middle" fill="#0a2fa0" stroke="#0a2fa0" stroke-width="1.0">E</text>
<text class="m" transform="translate(1355.26,335.20) scale(0.93,1)" font-size="22" text-anchor="middle" fill="#0a2fa0" stroke="#0a2fa0" stroke-width="1.0">E</text>
<text class="m" transform="translate(1367.48,335.20) scale(0.93,1)" font-size="22" text-anchor="middle" fill="#8cbe9c" stroke="#8cbe9c" stroke-width="1.0">G</text>
<text class="m" transform="translate(1379.69,335.20) scale(0.93,1)" font-size="22" text-anchor="middle" fill="#5585a2" stroke="#5585a2" stroke-width="1.0">C</text>
<text class="m" transform="translate(1391.91,335.20) scale(0.93,1)" font-size="22" text-anchor="middle" fill="#0a2fa0" stroke="#0a2fa0" stroke-width="1.0">G</text>
<text class="m" transform="translate(1404.12,335.20) scale(0.93,1)" font-size="22" text-anchor="middle" fill="#0a2fa0" stroke="#0a2fa0" stroke-width="1.0">G</text>
<text class="m" transform="translate(1416.33,335.20) scale(0.93,1)" font-size="22" text-anchor="middle" fill="#0a2fa0" stroke="#0a2fa0" stroke-width="1.0">V</text>
<text class="m" transform="translate(1428.55,335.20) scale(0.93,1)" font-size="22" text-anchor="middle" fill="#0a2fa0" stroke="#0a2fa0" stroke-width="1.0">R</text>
<text class="m" transform="translate(1440.76,335.20) scale(0.93,1)" font-size="22" text-anchor="middle" fill="#4a7aa6" stroke="#4a7aa6" stroke-width="1.0">L</text>
<text class="m" transform="translate(1452.98,335.20) scale(0.93,1)" font-size="22" text-anchor="middle" fill="#0a2fa0" stroke="#0a2fa0" stroke-width="1.0">I</text>
<text class="m" transform="translate(1465.19,335.20) scale(0.93,1)" font-size="22" text-anchor="middle" fill="#4573a6" stroke="#4573a6" stroke-width="1.0">H</text>
<text class="m" transform="translate(1477.40,335.20) scale(0.93,1)" font-size="22" text-anchor="middle" fill="#4573a6" stroke="#4573a6" stroke-width="1.0">K</text>
<text class="m" transform="translate(1489.62,335.20) scale(0.93,1)" font-size="22" text-anchor="middle" fill="#4876a6" stroke="#4876a6" stroke-width="1.0">T</text>
<text class="m" transform="translate(1501.83,335.20) scale(0.93,1)" font-size="22" text-anchor="middle" fill="#5888a4" stroke="#5888a4" stroke-width="1.0">Q</text>
<text class="m" transform="translate(1514.05,335.20) scale(0.93,1)" font-size="22" text-anchor="middle" fill="#0a2fa0" stroke="#0a2fa0" stroke-width="1.0">I</text>
<text class="m" transform="translate(1526.26,335.20) scale(0.93,1)" font-size="22" text-anchor="middle" fill="#5888a4" stroke="#5888a4" stroke-width="1.0">P</text>
<text class="m" transform="translate(1538.47,335.20) scale(0.93,1)" font-size="22" text-anchor="middle" fill="#0a2fa0" stroke="#0a2fa0" stroke-width="1.0">R</text>
<text class="m" transform="translate(1550.69,335.20) scale(0.93,1)" font-size="22" text-anchor="middle" fill="#0a2fa0" stroke="#0a2fa0" stroke-width="1.0">S</text>
<text class="m" transform="translate(1562.90,335.20) scale(0.93,1)" font-size="22" text-anchor="middle" fill="#5888a4" stroke="#5888a4" stroke-width="1.0">P</text>
<text class="m" transform="translate(1575.12,335.20) scale(0.93,1)" font-size="22" text-anchor="middle" fill="#0a2fa0" stroke="#0a2fa0" stroke-width="1.0">S</text>
<text class="m" transform="translate(1587.33,335.20) scale(0.93,1)" font-size="22" text-anchor="middle" fill="#0a2fa0" stroke="#0a2fa0" stroke-width="1.0">R</text>
<text class="m" transform="translate(1599.54,335.20) scale(0.93,1)" font-size="22" text-anchor="middle" fill="#0a2fa0" stroke="#0a2fa0" stroke-width="1.0">K</text>
<text class="m" transform="translate(1611.76,335.20) scale(0.93,1)" font-size="22" text-anchor="middle" fill="#0a2fa0" stroke="#0a2fa0" stroke-width="1.0">Q</text>
<text class="m" transform="translate(1623.97,335.20) scale(0.93,1)" font-size="22" text-anchor="middle" fill="#0a2fa0" stroke="#0a2fa0" stroke-width="1.0">H</text>
<text class="m" transform="translate(1636.19,335.20) scale(0.93,1)" font-size="22" text-anchor="middle" fill="#5585a2" stroke="#5585a2" stroke-width="1.0">P</text>
<text class="m" transform="translate(1648.40,335.20) scale(0.93,1)" font-size="22" text-anchor="middle" fill="#0a2fa0" stroke="#0a2fa0" stroke-width="1.0">G</text>
<text class="m" transform="translate(1660.61,335.20) scale(0.93,1)" font-size="22" text-anchor="middle" fill="#5888a4" stroke="#5888a4" stroke-width="1.0">P</text>
<text class="m" transform="translate(1672.83,335.20) scale(0.93,1)" font-size="22" text-anchor="middle" fill="#0a2fa0" stroke="#0a2fa0" stroke-width="1.0">C</text>
<text class="m" transform="translate(1685.04,335.20) scale(0.93,1)" font-size="22" text-anchor="middle" fill="#0a2fa0" stroke="#0a2fa0" stroke-width="1.0">Q</text>
<text class="m" transform="translate(1697.26,335.20) scale(0.93,1)" font-size="22" text-anchor="middle" fill="#0a2fa0" stroke="#0a2fa0" stroke-width="1.0">C</text>
<text class="m" transform="translate(427.00,376.80) scale(0.93,1)" font-size="22" text-anchor="middle" fill="#0a2fa0" stroke="#0a2fa0" stroke-width="1.0">M</text>
<text class="m" transform="translate(439.21,376.80) scale(0.93,1)" font-size="22" text-anchor="middle" fill="#2a5aa8" stroke="#2a5aa8" stroke-width="1.0">A</text>
<text class="m" transform="translate(451.43,376.80) scale(0.93,1)" font-size="22" text-anchor="middle" fill="#0a2fa0" stroke="#0a2fa0" stroke-width="1.0">T</text>
<text class="m" transform="translate(463.64,376.80) scale(0.93,1)" font-size="22" text-anchor="middle" fill="#0a2fa0" stroke="#0a2fa0" stroke-width="1.0">Q</text>
<text class="m" transform="translate(475.86,376.80) scale(0.93,1)" font-size="22" text-anchor="middle" fill="#0a2fa0" stroke="#0a2fa0" stroke-width="1.0">G</text>
<text class="m" transform="translate(488.07,376.80) scale(0.93,1)" font-size="22" text-anchor="middle" fill="#0a2fa0" stroke="#0a2fa0" stroke-width="1.0">P</text>
<text class="m" transform="translate(500.28,376.80) scale(0.93,1)" font-size="22" text-anchor="middle" fill="#4f7ea6" stroke="#4f7ea6" stroke-width="1.0">D</text>
<text class="m" transform="translate(512.50,376.80) scale(0.93,1)" font-size="22" text-anchor="middle" fill="#0a2fa0" stroke="#0a2fa0" stroke-width="1.0">K</text>
<text class="m" transform="translate(524.71,376.80) scale(0.93,1)" font-size="22" text-anchor="middle" fill="#4a7aa6" stroke="#4a7aa6" stroke-width="1.0">A</text>
<text class="m" transform="translate(536.93,376.80) scale(0.93,1)" font-size="22" text-anchor="middle" fill="#0a2fa0" stroke="#0a2fa0" stroke-width="1.0">I</text>
<text class="m" transform="translate(549.14,376.80) scale(0.93,1)" font-size="22" text-anchor="middle" fill="#0a2fa0" stroke="#0a2fa0" stroke-width="1.0">F</text>
<text class="m" transform="translate(561.35,376.80) scale(0.93,1)" font-size="22" text-anchor="middle" fill="#0a2fa0" stroke="#0a2fa0" stroke-width="1.0">L</text>
<text class="m" transform="translate(573.57,376.80) scale(0.93,1)" font-size="22" text-anchor="middle" fill="#0a2fa0" stroke="#0a2fa0" stroke-width="1.0">L</text>
<text class="m" transform="translate(585.78,376.80) scale(0.93,1)" font-size="22" text-anchor="middle" fill="#0a2fa0" stroke="#0a2fa0" stroke-width="1.0">V</text>
<text class="m" transform="translate(598.00,376.80) scale(0.93,1)" font-size="22" text-anchor="middle" fill="#0a2fa0" stroke="#0a2fa0" stroke-width="1.0">G</text>
<text class="m" transform="translate(610.21,376.80) scale(0.93,1)" font-size="22" text-anchor="middle" fill="#0a2fa0" stroke="#0a2fa0" stroke-width="1.0">H</text>
<text class="m" transform="translate(622.42,376.80) scale(0.93,1)" font-size="22" text-anchor="middle" fill="#0a2fa0" stroke="#0a2fa0" stroke-width="1.0">K</text>
<text class="m" transform="translate(634.64,376.80) scale(0.93,1)" font-size="22" text-anchor="middle" fill="#0a2fa0" stroke="#0a2fa0" stroke-width="1.0">S</text>
<text class="m" transform="translate(646.85,376.80) scale(0.93,1)" font-size="22" text-anchor="middle" fill="#0a2fa0" stroke="#0a2fa0" stroke-width="1.0">D</text>
<text class="m" transform="translate(659.07,376.80) scale(0.93,1)" font-size="22" text-anchor="middle" fill="#0a2fa0" stroke="#0a2fa0" stroke-width="1.0">L</text>
<text class="m" transform="translate(671.28,376.80) scale(0.93,1)" font-size="22" text-anchor="middle" fill="#0a2fa0" stroke="#0a2fa0" stroke-width="1.0">Q</text>
<text class="m" transform="translate(683.49,376.80) scale(0.93,1)" font-size="22" text-anchor="middle" fill="#0a2fa0" stroke="#0a2fa0" stroke-width="1.0">S</text>
<text class="m" transform="translate(695.71,376.80) scale(0.93,1)" font-size="22" text-anchor="middle" fill="#4a7aa6" stroke="#4a7aa6" stroke-width="1.0">T</text>
<text class="m" transform="translate(707.92,376.80) scale(0.93,1)" font-size="22" text-anchor="middle" fill="#0a2fa0" stroke="#0a2fa0" stroke-width="1.0">R</text>
<text class="m" transform="translate(720.14,376.80) scale(0.93,1)" font-size="22" text-anchor="middle" fill="#0a2fa0" stroke="#0a2fa0" stroke-width="1.0">C</text>
<text class="m" transform="translate(732.35,376.80) scale(0.93,1)" font-size="22" text-anchor="middle" fill="#0a2fa0" stroke="#0a2fa0" stroke-width="1.0">V</text>
<text class="m" transform="translate(744.56,376.80) scale(0.93,1)" font-size="22" text-anchor="middle" fill="#0a2fa0" stroke="#0a2fa0" stroke-width="1.0">S</text>
<text class="m" transform="translate(756.78,376.80) scale(0.93,1)" font-size="22" text-anchor="middle" fill="#4a78a6" stroke="#4a78a6" stroke-width="1.0">A</text>
<text class="m" transform="translate(768.99,376.80) scale(0.93,1)" font-size="22" text-anchor="middle" fill="#0a2fa0" stroke="#0a2fa0" stroke-width="1.0">Q</text>
<text class="m" transform="translate(781.21,376.80) scale(0.93,1)" font-size="22" text-anchor="middle" fill="#0a2fa0" stroke="#0a2fa0" stroke-width="1.0">E</text>
<text class="m" transform="translate(793.42,376.80) scale(0.93,1)" font-size="22" text-anchor="middle" fill="#4a78a6" stroke="#4a78a6" stroke-width="1.0">A</text>
<text class="m" transform="translate(805.63,376.80) scale(0.93,1)" font-size="22" text-anchor="middle" fill="#4a78a6" stroke="#4a78a6" stroke-width="1.0">K</text>
<text class="m" transform="translate(817.85,376.80) scale(0.93,1)" font-size="22" text-anchor="middle" fill="#0a2fa0" stroke="#0a2fa0" stroke-width="1.0">E</text>
<text class="m" transform="translate(830.06,376.80) scale(0.93,1)" font-size="22" text-anchor="middle" fill="#0a2fa0" stroke="#0a2fa0" stroke-width="1.0">L</text>
<text class="m" transform="translate(842.28,376.80) scale(0.93,1)" font-size="22" text-anchor="middle" fill="#0a2fa0" stroke="#0a2fa0" stroke-width="1.0">A</text>
<text class="m" transform="translate(854.49,376.80) scale(0.93,1)" font-size="22" text-anchor="middle" fill="#0a2fa0" stroke="#0a2fa0" stroke-width="1.0">A</text>
<text class="m" transform="translate(866.70,376.80) scale(0.93,1)" font-size="22" text-anchor="middle" fill="#0a2fa0" stroke="#0a2fa0" stroke-width="1.0">S</text>
<text class="m" transform="translate(878.92,376.80) scale(0.93,1)" font-size="22" text-anchor="middle" fill="#0a2fa0" stroke="#0a2fa0" stroke-width="1.0">L</text>
<text class="m" transform="translate(891.13,376.80) scale(0.93,1)" font-size="22" text-anchor="middle" fill="#0a2fa0" stroke="#0a2fa0" stroke-width="1.0">G</text>
<text class="m" transform="translate(903.35,376.80) scale(0.93,1)" font-size="22" text-anchor="middle" fill="#0a2fa0" stroke="#0a2fa0" stroke-width="1.0">M</text>
<text class="m" transform="translate(915.56,376.80) scale(0.93,1)" font-size="22" text-anchor="middle" fill="#0a2fa0" stroke="#0a2fa0" stroke-width="1.0">A</text>
<text class="m" transform="translate(927.77,376.80) scale(0.93,1)" font-size="22" text-anchor="middle" fill="#0a2fa0" stroke="#0a2fa0" stroke-width="1.0">F</text>
<text class="m" transform="translate(939.99,376.80) scale(0.93,1)" font-size="22" text-anchor="middle" fill="#2a5aa8" stroke="#2a5aa8" stroke-width="1.0">I</text>
<text class="m" transform="translate(952.20,376.80) scale(0.93,1)" font-size="22" text-anchor="middle" fill="#0a2fa0" stroke="#0a2fa0" stroke-width="1.0">E</text>
<text class="m" transform="translate(964.42,376.80) scale(0.93,1)" font-size="22" text-anchor="middle" fill="#0a2fa0" stroke="#0a2fa0" stroke-width="1.0">T</text>
<text class="m" transform="translate(976.63,376.80) scale(0.93,1)" font-size="22" text-anchor="middle" fill="#0a2fa0" stroke="#0a2fa0" stroke-width="1.0">S</text>
<text class="m" transform="translate(988.84,376.80) scale(0.93,1)" font-size="22" text-anchor="middle" fill="#4a7aa6" stroke="#4a7aa6" stroke-width="1.0">A</text>
<text class="m" transform="translate(1001.06,376.80) scale(0.93,1)" font-size="22" text-anchor="middle" fill="#0a2fa0" stroke="#0a2fa0" stroke-width="1.0">K</text>
<text class="m" transform="translate(1013.27,376.80) scale(0.93,1)" font-size="22" text-anchor="middle" fill="#5080a2" stroke="#5080a2" stroke-width="1.0">S</text>
<text class="m" transform="translate(1025.49,376.80) scale(0.93,1)" font-size="22" text-anchor="middle" fill="#0a2fa0" stroke="#0a2fa0" stroke-width="1.0">N</text>
<text class="m" transform="translate(1037.70,376.80) scale(0.93,1)" font-size="22" text-anchor="middle" fill="#5a8aa2" stroke="#5a8aa2" stroke-width="1.0">S</text>
<text class="m" transform="translate(1049.91,376.80) scale(0.93,1)" font-size="22" text-anchor="middle" fill="#0a2fa0" stroke="#0a2fa0" stroke-width="1.0">N</text>
<text class="m" transform="translate(1062.13,376.80) scale(0.93,1)" font-size="22" text-anchor="middle" fill="#0a2fa0" stroke="#0a2fa0" stroke-width="1.0">V</text>
<text class="m" transform="translate(1074.34,376.80) scale(0.93,1)" font-size="22" text-anchor="middle" fill="#5585a2" stroke="#5585a2" stroke-width="1.0">D</text>
<text class="m" transform="translate(1086.56,376.80) scale(0.93,1)" font-size="22" text-anchor="middle" fill="#0a2fa0" stroke="#0a2fa0" stroke-width="1.0">L</text>
<text class="m" transform="translate(1098.77,376.80) scale(0.93,1)" font-size="22" text-anchor="middle" fill="#0a2fa0" stroke="#0a2fa0" stroke-width="1.0">A</text>
<text class="m" transform="translate(1110.98,376.80) scale(0.93,1)" font-size="22" text-anchor="middle" fill="#0a2fa0" stroke="#0a2fa0" stroke-width="1.0">F</text>
<text class="m" transform="translate(1123.20,376.80) scale(0.93,1)" font-size="22" text-anchor="middle" fill="#0a2fa0" stroke="#0a2fa0" stroke-width="1.0">D</text>
<text class="m" transform="translate(1135.41,376.80) scale(0.93,1)" font-size="22" text-anchor="middle" fill="#7aae98" stroke="#7aae98" stroke-width="1.0">T</text>
<text class="m" transform="translate(1147.63,376.80) scale(0.93,1)" font-size="22" text-anchor="middle" fill="#0a2fa0" stroke="#0a2fa0" stroke-width="1.0">L</text>
<text class="m" transform="translate(1159.84,376.80) scale(0.93,1)" font-size="22" text-anchor="middle" fill="#4573a6" stroke="#4573a6" stroke-width="1.0">A</text>
<text class="m" transform="translate(1172.05,376.80) scale(0.93,1)" font-size="22" text-anchor="middle" fill="#7cb098" stroke="#7cb098" stroke-width="1.0">N</text>
<text class="m" transform="translate(1184.27,376.80) scale(0.93,1)" font-size="22" text-anchor="middle" fill="#4573a6" stroke="#4573a6" stroke-width="1.0">A</text>
<text class="m" transform="translate(1196.48,376.80) scale(0.93,1)" font-size="22" text-anchor="middle" fill="#0a2fa0" stroke="#0a2fa0" stroke-width="1.0">I</text>
<text class="m" transform="translate(1208.70,376.80) scale(0.93,1)" font-size="22" text-anchor="middle" fill="#0a2fa0" stroke="#0a2fa0" stroke-width="1.0">Q</text>
<text class="m" transform="translate(1220.91,376.80) scale(0.93,1)" font-size="22" text-anchor="middle" fill="#0a2fa0" stroke="#0a2fa0" stroke-width="1.0">Q</text>
<text class="m" transform="translate(1233.12,376.80) scale(0.93,1)" font-size="22" text-anchor="middle" fill="#0a2fa0" stroke="#0a2fa0" stroke-width="1.0">A</text>
<text class="m" transform="translate(1245.34,376.80) scale(0.93,1)" font-size="22" text-anchor="middle" fill="#0a2fa0" stroke="#0a2fa0" stroke-width="1.0">L</text>
<text class="m" transform="translate(1257.55,376.80) scale(0.93,1)" font-size="22" text-anchor="middle" fill="#3a6aa8" stroke="#3a6aa8" stroke-width="1.0">Q</text>
<text class="m" transform="translate(1269.77,376.80) scale(0.93,1)" font-size="22" text-anchor="middle" fill="#0a2fa0" stroke="#0a2fa0" stroke-width="1.0">Q</text>
<text class="m" transform="translate(1281.98,376.80) scale(0.93,1)" font-size="22" text-anchor="middle" fill="#0a2fa0" stroke="#0a2fa0" stroke-width="1.0">G</text>
<text class="m" transform="translate(1294.19,376.80) scale(0.93,1)" font-size="22" text-anchor="middle" fill="#0a2fa0" stroke="#0a2fa0" stroke-width="1.0">D</text>
<text class="m" transform="translate(1306.41,376.80) scale(0.93,1)" font-size="22" text-anchor="middle" fill="#0a2fa0" stroke="#0a2fa0" stroke-width="1.0">I</text>
<text class="m" transform="translate(1318.62,376.80) scale(0.93,1)" font-size="22" text-anchor="middle" fill="#0a2fa0" stroke="#0a2fa0" stroke-width="1.0">K</text>
<text class="m" transform="translate(1330.84,376.80) scale(0.93,1)" font-size="22" text-anchor="middle" fill="#0a2fa0" stroke="#0a2fa0" stroke-width="1.0">L</text>
<text class="m" transform="translate(1343.05,376.80) scale(0.93,1)" font-size="22" text-anchor="middle" fill="#0a2fa0" stroke="#0a2fa0" stroke-width="1.0">E</text>
<text class="m" transform="translate(1355.26,376.80) scale(0.93,1)" font-size="22" text-anchor="middle" fill="#0a2fa0" stroke="#0a2fa0" stroke-width="1.0">E</text>
<text class="m" transform="translate(1367.48,376.80) scale(0.93,1)" font-size="22" text-anchor="middle" fill="#8cbe9c" stroke="#8cbe9c" stroke-width="1.0">H</text>
<text class="m" transform="translate(1379.69,376.80) scale(0.93,1)" font-size="22" text-anchor="middle" fill="#5585a2" stroke="#5585a2" stroke-width="1.0">W</text>
<text class="m" transform="translate(1391.91,376.80) scale(0.93,1)" font-size="22" text-anchor="middle" fill="#0a2fa0" stroke="#0a2fa0" stroke-width="1.0">G</text>
<text class="m" transform="translate(1404.12,376.80) scale(0.93,1)" font-size="22" text-anchor="middle" fill="#0a2fa0" stroke="#0a2fa0" stroke-width="1.0">G</text>
<text class="m" transform="translate(1416.33,376.80) scale(0.93,1)" font-size="22" text-anchor="middle" fill="#0a2fa0" stroke="#0a2fa0" stroke-width="1.0">V</text>
<text class="m" transform="translate(1428.55,376.80) scale(0.93,1)" font-size="22" text-anchor="middle" fill="#0a2fa0" stroke="#0a2fa0" stroke-width="1.0">R</text>
<text class="m" transform="translate(1440.76,376.80) scale(0.93,1)" font-size="22" text-anchor="middle" fill="#4a7aa6" stroke="#4a7aa6" stroke-width="1.0">F</text>
<text class="m" transform="translate(1452.98,376.80) scale(0.93,1)" font-size="22" text-anchor="middle" fill="#0a2fa0" stroke="#0a2fa0" stroke-width="1.0">I</text>
<text class="m" transform="translate(1465.19,376.80) scale(0.93,1)" font-size="22" text-anchor="middle" fill="#4573a6" stroke="#4573a6" stroke-width="1.0">H</text>
<text class="m" transform="translate(1477.40,376.80) scale(0.93,1)" font-size="22" text-anchor="middle" fill="#4573a6" stroke="#4573a6" stroke-width="1.0">K</text>
<text class="m" transform="translate(1489.62,376.80) scale(0.93,1)" font-size="22" text-anchor="middle" fill="#4876a6" stroke="#4876a6" stroke-width="1.0">T</text>
<text class="m" transform="translate(1501.83,376.80) scale(0.93,1)" font-size="22" text-anchor="middle" fill="#5888a4" stroke="#5888a4" stroke-width="1.0">H</text>
<text class="m" transform="translate(1514.05,376.80) scale(0.93,1)" font-size="22" text-anchor="middle" fill="#0a2fa0" stroke="#0a2fa0" stroke-width="1.0">I</text>
<text class="m" transform="translate(1526.26,376.80) scale(0.93,1)" font-size="22" text-anchor="middle" fill="#5888a4" stroke="#5888a4" stroke-width="1.0">S</text>
<text class="m" transform="translate(1538.47,376.80) scale(0.93,1)" font-size="22" text-anchor="middle" fill="#0a2fa0" stroke="#0a2fa0" stroke-width="1.0">R</text>
<text class="m" transform="translate(1550.69,376.80) scale(0.93,1)" font-size="22" text-anchor="middle" fill="#0a2fa0" stroke="#0a2fa0" stroke-width="1.0">S</text>
<text class="m" transform="translate(1562.90,376.80) scale(0.93,1)" font-size="22" text-anchor="middle" fill="#5888a4" stroke="#5888a4" stroke-width="1.0">P</text>
<text class="m" transform="translate(1575.12,376.80) scale(0.93,1)" font-size="22" text-anchor="middle" fill="#0a2fa0" stroke="#0a2fa0" stroke-width="1.0">S</text>
<text class="m" transform="translate(1587.33,376.80) scale(0.93,1)" font-size="22" text-anchor="middle" fill="#0a2fa0" stroke="#0a2fa0" stroke-width="1.0">R</text>
<text class="m" transform="translate(1599.54,376.80) scale(0.93,1)" font-size="22" text-anchor="middle" fill="#0a2fa0" stroke="#0a2fa0" stroke-width="1.0">K</text>
<text class="m" transform="translate(1611.76,376.80) scale(0.93,1)" font-size="22" text-anchor="middle" fill="#0a2fa0" stroke="#0a2fa0" stroke-width="1.0">Q</text>
<text class="m" transform="translate(1623.97,376.80) scale(0.93,1)" font-size="22" text-anchor="middle" fill="#0a2fa0" stroke="#0a2fa0" stroke-width="1.0">H</text>
<text class="m" transform="translate(1636.19,376.80) scale(0.93,1)" font-size="22" text-anchor="middle" fill="#5585a2" stroke="#5585a2" stroke-width="1.0">P</text>
<text class="m" transform="translate(1648.40,376.80) scale(0.93,1)" font-size="22" text-anchor="middle" fill="#0a2fa0" stroke="#0a2fa0" stroke-width="1.0">G</text>
<text class="m" transform="translate(1660.61,376.80) scale(0.93,1)" font-size="22" text-anchor="middle" fill="#5888a4" stroke="#5888a4" stroke-width="1.0">P</text>
<text class="m" transform="translate(1672.83,376.80) scale(0.93,1)" font-size="22" text-anchor="middle" fill="#0a2fa0" stroke="#0a2fa0" stroke-width="1.0">C</text>
<text class="m" transform="translate(1685.04,376.80) scale(0.93,1)" font-size="22" text-anchor="middle" fill="#0a2fa0" stroke="#0a2fa0" stroke-width="1.0">Q</text>
<text class="m" transform="translate(1697.26,376.80) scale(0.93,1)" font-size="22" text-anchor="middle" fill="#0a2fa0" stroke="#0a2fa0" stroke-width="1.0">C</text>
<text class="m" transform="translate(427.00,418.40) scale(0.93,1)" font-size="22" text-anchor="middle" fill="#0a2fa0" stroke="#0a2fa0" stroke-width="1.0">M</text>
<text class="m" transform="translate(439.21,418.40) scale(0.93,1)" font-size="22" text-anchor="middle" fill="#2a5aa8" stroke="#2a5aa8" stroke-width="1.0">S</text>
<text class="m" transform="translate(451.43,418.40) scale(0.93,1)" font-size="22" text-anchor="middle" fill="#0a2fa0" stroke="#0a2fa0" stroke-width="1.0">T</text>
<text class="m" transform="translate(463.64,418.40) scale(0.93,1)" font-size="22" text-anchor="middle" fill="#0a2fa0" stroke="#0a2fa0" stroke-width="1.0">Q</text>
<text class="m" transform="translate(475.86,418.40) scale(0.93,1)" font-size="22" text-anchor="middle" fill="#0a2fa0" stroke="#0a2fa0" stroke-width="1.0">G</text>
<text class="m" transform="translate(488.07,418.40) scale(0.93,1)" font-size="22" text-anchor="middle" fill="#0a2fa0" stroke="#0a2fa0" stroke-width="1.0">P</text>
<text class="m" transform="translate(500.28,418.40) scale(0.93,1)" font-size="22" text-anchor="middle" fill="#4f7ea6" stroke="#4f7ea6" stroke-width="1.0">N</text>
<text class="m" transform="translate(512.50,418.40) scale(0.93,1)" font-size="22" text-anchor="middle" fill="#0a2fa0" stroke="#0a2fa0" stroke-width="1.0">K</text>
<text class="m" transform="translate(524.71,418.40) scale(0.93,1)" font-size="22" text-anchor="middle" fill="#4a7aa6" stroke="#4a7aa6" stroke-width="1.0">V</text>
<text class="m" transform="translate(536.93,418.40) scale(0.93,1)" font-size="22" text-anchor="middle" fill="#0a2fa0" stroke="#0a2fa0" stroke-width="1.0">I</text>
<text class="m" transform="translate(549.14,418.40) scale(0.93,1)" font-size="22" text-anchor="middle" fill="#0a2fa0" stroke="#0a2fa0" stroke-width="1.0">F</text>
<text class="m" transform="translate(561.35,418.40) scale(0.93,1)" font-size="22" text-anchor="middle" fill="#0a2fa0" stroke="#0a2fa0" stroke-width="1.0">L</text>
<text class="m" transform="translate(573.57,418.40) scale(0.93,1)" font-size="22" text-anchor="middle" fill="#0a2fa0" stroke="#0a2fa0" stroke-width="1.0">L</text>
<text class="m" transform="translate(585.78,418.40) scale(0.93,1)" font-size="22" text-anchor="middle" fill="#0a2fa0" stroke="#0a2fa0" stroke-width="1.0">V</text>
<text class="m" transform="translate(598.00,418.40) scale(0.93,1)" font-size="22" text-anchor="middle" fill="#0a2fa0" stroke="#0a2fa0" stroke-width="1.0">G</text>
<text class="m" transform="translate(610.21,418.40) scale(0.93,1)" font-size="22" text-anchor="middle" fill="#0a2fa0" stroke="#0a2fa0" stroke-width="1.0">H</text>
<text class="m" transform="translate(622.42,418.40) scale(0.93,1)" font-size="22" text-anchor="middle" fill="#0a2fa0" stroke="#0a2fa0" stroke-width="1.0">K</text>
<text class="m" transform="translate(634.64,418.40) scale(0.93,1)" font-size="22" text-anchor="middle" fill="#0a2fa0" stroke="#0a2fa0" stroke-width="1.0">S</text>
<text class="m" transform="translate(646.85,418.40) scale(0.93,1)" font-size="22" text-anchor="middle" fill="#0a2fa0" stroke="#0a2fa0" stroke-width="1.0">D</text>
<text class="m" transform="translate(659.07,418.40) scale(0.93,1)" font-size="22" text-anchor="middle" fill="#0a2fa0" stroke="#0a2fa0" stroke-width="1.0">L</text>
<text class="m" transform="translate(671.28,418.40) scale(0.93,1)" font-size="22" text-anchor="middle" fill="#0a2fa0" stroke="#0a2fa0" stroke-width="1.0">Q</text>
<text class="m" transform="translate(683.49,418.40) scale(0.93,1)" font-size="22" text-anchor="middle" fill="#0a2fa0" stroke="#0a2fa0" stroke-width="1.0">S</text>
<text class="m" transform="translate(695.71,418.40) scale(0.93,1)" font-size="22" text-anchor="middle" fill="#4a7aa6" stroke="#4a7aa6" stroke-width="1.0">T</text>
<text class="m" transform="translate(707.92,418.40) scale(0.93,1)" font-size="22" text-anchor="middle" fill="#0a2fa0" stroke="#0a2fa0" stroke-width="1.0">R</text>
<text class="m" transform="translate(720.14,418.40) scale(0.93,1)" font-size="22" text-anchor="middle" fill="#0a2fa0" stroke="#0a2fa0" stroke-width="1.0">C</text>
<text class="m" transform="translate(732.35,418.40) scale(0.93,1)" font-size="22" text-anchor="middle" fill="#0a2fa0" stroke="#0a2fa0" stroke-width="1.0">V</text>
<text class="m" transform="translate(744.56,418.40) scale(0.93,1)" font-size="22" text-anchor="middle" fill="#0a2fa0" stroke="#0a2fa0" stroke-width="1.0">S</text>
<text class="m" transform="translate(756.78,418.40) scale(0.93,1)" font-size="22" text-anchor="middle" fill="#4a78a6" stroke="#4a78a6" stroke-width="1.0">T</text>
<text class="m" transform="translate(768.99,418.40) scale(0.93,1)" font-size="22" text-anchor="middle" fill="#0a2fa0" stroke="#0a2fa0" stroke-width="1.0">Q</text>
<text class="m" transform="translate(781.21,418.40) scale(0.93,1)" font-size="22" text-anchor="middle" fill="#0a2fa0" stroke="#0a2fa0" stroke-width="1.0">E</text>
<text class="m" transform="translate(793.42,418.40) scale(0.93,1)" font-size="22" text-anchor="middle" fill="#4a78a6" stroke="#4a78a6" stroke-width="1.0">E</text>
<text class="m" transform="translate(805.63,418.40) scale(0.93,1)" font-size="22" text-anchor="middle" fill="#4a78a6" stroke="#4a78a6" stroke-width="1.0">E</text>
<text class="m" transform="translate(817.85,418.40) scale(0.93,1)" font-size="22" text-anchor="middle" fill="#0a2fa0" stroke="#0a2fa0" stroke-width="1.0">E</text>
<text class="m" transform="translate(830.06,418.40) scale(0.93,1)" font-size="22" text-anchor="middle" fill="#0a2fa0" stroke="#0a2fa0" stroke-width="1.0">L</text>
<text class="m" transform="translate(842.28,418.40) scale(0.93,1)" font-size="22" text-anchor="middle" fill="#0a2fa0" stroke="#0a2fa0" stroke-width="1.0">A</text>
<text class="m" transform="translate(854.49,418.40) scale(0.93,1)" font-size="22" text-anchor="middle" fill="#0a2fa0" stroke="#0a2fa0" stroke-width="1.0">A</text>
<text class="m" transform="translate(866.70,418.40) scale(0.93,1)" font-size="22" text-anchor="middle" fill="#0a2fa0" stroke="#0a2fa0" stroke-width="1.0">S</text>
<text class="m" transform="translate(878.92,418.40) scale(0.93,1)" font-size="22" text-anchor="middle" fill="#0a2fa0" stroke="#0a2fa0" stroke-width="1.0">L</text>
<text class="m" transform="translate(891.13,418.40) scale(0.93,1)" font-size="22" text-anchor="middle" fill="#0a2fa0" stroke="#0a2fa0" stroke-width="1.0">G</text>
<text class="m" transform="translate(903.35,418.40) scale(0.93,1)" font-size="22" text-anchor="middle" fill="#0a2fa0" stroke="#0a2fa0" stroke-width="1.0">M</text>
<text class="m" transform="translate(915.56,418.40) scale(0.93,1)" font-size="22" text-anchor="middle" fill="#0a2fa0" stroke="#0a2fa0" stroke-width="1.0">A</text>
<text class="m" transform="translate(927.77,418.40) scale(0.93,1)" font-size="22" text-anchor="middle" fill="#0a2fa0" stroke="#0a2fa0" stroke-width="1.0">F</text>
<text class="m" transform="translate(939.99,418.40) scale(0.93,1)" font-size="22" text-anchor="middle" fill="#2a5aa8" stroke="#2a5aa8" stroke-width="1.0">V</text>
<text class="m" transform="translate(952.20,418.40) scale(0.93,1)" font-size="22" text-anchor="middle" fill="#0a2fa0" stroke="#0a2fa0" stroke-width="1.0">E</text>
<text class="m" transform="translate(964.42,418.40) scale(0.93,1)" font-size="22" text-anchor="middle" fill="#0a2fa0" stroke="#0a2fa0" stroke-width="1.0">T</text>
<text class="m" transform="translate(976.63,418.40) scale(0.93,1)" font-size="22" text-anchor="middle" fill="#0a2fa0" stroke="#0a2fa0" stroke-width="1.0">S</text>
<text class="m" transform="translate(988.84,418.40) scale(0.93,1)" font-size="22" text-anchor="middle" fill="#4a7aa6" stroke="#4a7aa6" stroke-width="1.0">A</text>
<text class="m" transform="translate(1001.06,418.40) scale(0.93,1)" font-size="22" text-anchor="middle" fill="#0a2fa0" stroke="#0a2fa0" stroke-width="1.0">K</text>
<text class="m" transform="translate(1013.27,418.40) scale(0.93,1)" font-size="22" text-anchor="middle" fill="#5080a2" stroke="#5080a2" stroke-width="1.0">N</text>
<text class="m" transform="translate(1025.49,418.40) scale(0.93,1)" font-size="22" text-anchor="middle" fill="#0a2fa0" stroke="#0a2fa0" stroke-width="1.0">N</text>
<text class="m" transform="translate(1037.70,418.40) scale(0.93,1)" font-size="22" text-anchor="middle" fill="#5a8aa2" stroke="#5a8aa2" stroke-width="1.0">C</text>
<text class="m" transform="translate(1049.91,418.40) scale(0.93,1)" font-size="22" text-anchor="middle" fill="#0a2fa0" stroke="#0a2fa0" stroke-width="1.0">N</text>
<text class="m" transform="translate(1062.13,418.40) scale(0.93,1)" font-size="22" text-anchor="middle" fill="#0a2fa0" stroke="#0a2fa0" stroke-width="1.0">V</text>
<text class="m" transform="translate(1074.34,418.40) scale(0.93,1)" font-size="22" text-anchor="middle" fill="#5585a2" stroke="#5585a2" stroke-width="1.0">A</text>
<text class="m" transform="translate(1086.56,418.40) scale(0.93,1)" font-size="22" text-anchor="middle" fill="#0a2fa0" stroke="#0a2fa0" stroke-width="1.0">L</text>
<text class="m" transform="translate(1098.77,418.40) scale(0.93,1)" font-size="22" text-anchor="middle" fill="#0a2fa0" stroke="#0a2fa0" stroke-width="1.0">A</text>
<text class="m" transform="translate(1110.98,418.40) scale(0.93,1)" font-size="22" text-anchor="middle" fill="#0a2fa0" stroke="#0a2fa0" stroke-width="1.0">F</text>
<text class="m" transform="translate(1123.20,418.40) scale(0.93,1)" font-size="22" text-anchor="middle" fill="#0a2fa0" stroke="#0a2fa0" stroke-width="1.0">D</text>
<text class="m" transform="translate(1135.41,418.40) scale(0.93,1)" font-size="22" text-anchor="middle" fill="#7aae98" stroke="#7aae98" stroke-width="1.0">V</text>
<text class="m" transform="translate(1147.63,418.40) scale(0.93,1)" font-size="22" text-anchor="middle" fill="#0a2fa0" stroke="#0a2fa0" stroke-width="1.0">L</text>
<text class="m" transform="translate(1159.84,418.40) scale(0.93,1)" font-size="22" text-anchor="middle" fill="#4573a6" stroke="#4573a6" stroke-width="1.0">T</text>
<text class="m" transform="translate(1172.05,418.40) scale(0.93,1)" font-size="22" text-anchor="middle" fill="#7cb098" stroke="#7cb098" stroke-width="1.0">T</text>
<text class="m" transform="translate(1184.27,418.40) scale(0.93,1)" font-size="22" text-anchor="middle" fill="#4573a6" stroke="#4573a6" stroke-width="1.0">G</text>
<text class="m" transform="translate(1196.48,418.40) scale(0.93,1)" font-size="22" text-anchor="middle" fill="#0a2fa0" stroke="#0a2fa0" stroke-width="1.0">I</text>
<text class="m" transform="translate(1208.70,418.40) scale(0.93,1)" font-size="22" text-anchor="middle" fill="#0a2fa0" stroke="#0a2fa0" stroke-width="1.0">Q</text>
<text class="m" transform="translate(1220.91,418.40) scale(0.93,1)" font-size="22" text-anchor="middle" fill="#0a2fa0" stroke="#0a2fa0" stroke-width="1.0">Q</text>
<text class="m" transform="translate(1233.12,418.40) scale(0.93,1)" font-size="22" text-anchor="middle" fill="#0a2fa0" stroke="#0a2fa0" stroke-width="1.0">A</text>
<text class="m" transform="translate(1245.34,418.40) scale(0.93,1)" font-size="22" text-anchor="middle" fill="#0a2fa0" stroke="#0a2fa0" stroke-width="1.0">L</text>
<text class="m" transform="translate(1257.55,418.40) scale(0.93,1)" font-size="22" text-anchor="middle" fill="#3a6aa8" stroke="#3a6aa8" stroke-width="1.0">Q</text>
<text class="m" transform="translate(1269.77,418.40) scale(0.93,1)" font-size="22" text-anchor="middle" fill="#0a2fa0" stroke="#0a2fa0" stroke-width="1.0">Q</text>
<text class="m" transform="translate(1281.98,418.40) scale(0.93,1)" font-size="22" text-anchor="middle" fill="#0a2fa0" stroke="#0a2fa0" stroke-width="1.0">G</text>
<text class="m" transform="translate(1294.19,418.40) scale(0.93,1)" font-size="22" text-anchor="middle" fill="#0a2fa0" stroke="#0a2fa0" stroke-width="1.0">D</text>
<text class="m" transform="translate(1306.41,418.40) scale(0.93,1)" font-size="22" text-anchor="middle" fill="#0a2fa0" stroke="#0a2fa0" stroke-width="1.0">I</text>
<text class="m" transform="translate(1318.62,418.40) scale(0.93,1)" font-size="22" text-anchor="middle" fill="#0a2fa0" stroke="#0a2fa0" stroke-width="1.0">K</text>
<text class="m" transform="translate(1330.84,418.40) scale(0.93,1)" font-size="22" text-anchor="middle" fill="#0a2fa0" stroke="#0a2fa0" stroke-width="1.0">L</text>
<text class="m" transform="translate(1343.05,418.40) scale(0.93,1)" font-size="22" text-anchor="middle" fill="#0a2fa0" stroke="#0a2fa0" stroke-width="1.0">E</text>
<text class="m" transform="translate(1355.26,418.40) scale(0.93,1)" font-size="22" text-anchor="middle" fill="#0a2fa0" stroke="#0a2fa0" stroke-width="1.0">E</text>
<text class="m" transform="translate(1367.48,418.40) scale(0.93,1)" font-size="22" text-anchor="middle" fill="#8cbe9c" stroke="#8cbe9c" stroke-width="1.0">D</text>
<text class="m" transform="translate(1379.69,418.40) scale(0.93,1)" font-size="22" text-anchor="middle" fill="#5585a2" stroke="#5585a2" stroke-width="1.0">W</text>
<text class="m" transform="translate(1391.91,418.40) scale(0.93,1)" font-size="22" text-anchor="middle" fill="#0a2fa0" stroke="#0a2fa0" stroke-width="1.0">G</text>
<text class="m" transform="translate(1404.12,418.40) scale(0.93,1)" font-size="22" text-anchor="middle" fill="#0a2fa0" stroke="#0a2fa0" stroke-width="1.0">G</text>
<text class="m" transform="translate(1416.33,418.40) scale(0.93,1)" font-size="22" text-anchor="middle" fill="#0a2fa0" stroke="#0a2fa0" stroke-width="1.0">V</text>
<text class="m" transform="translate(1428.55,418.40) scale(0.93,1)" font-size="22" text-anchor="middle" fill="#0a2fa0" stroke="#0a2fa0" stroke-width="1.0">R</text>
<text class="m" transform="translate(1440.76,418.40) scale(0.93,1)" font-size="22" text-anchor="middle" fill="#4a7aa6" stroke="#4a7aa6" stroke-width="1.0">L</text>
<text class="m" transform="translate(1452.98,418.40) scale(0.93,1)" font-size="22" text-anchor="middle" fill="#0a2fa0" stroke="#0a2fa0" stroke-width="1.0">I</text>
<text class="m" transform="translate(1465.19,418.40) scale(0.93,1)" font-size="22" text-anchor="middle" fill="#4573a6" stroke="#4573a6" stroke-width="1.0">H</text>
<text class="m" transform="translate(1477.40,418.40) scale(0.93,1)" font-size="22" text-anchor="middle" fill="#4573a6" stroke="#4573a6" stroke-width="1.0">R</text>
<text class="m" transform="translate(1489.62,418.40) scale(0.93,1)" font-size="22" text-anchor="middle" fill="#4876a6" stroke="#4876a6" stroke-width="1.0">A</text>
<text class="m" transform="translate(1501.83,418.40) scale(0.93,1)" font-size="22" text-anchor="middle" fill="#5888a4" stroke="#5888a4" stroke-width="1.0">Q</text>
<text class="m" transform="translate(1514.05,418.40) scale(0.93,1)" font-size="22" text-anchor="middle" fill="#0a2fa0" stroke="#0a2fa0" stroke-width="1.0">I</text>
<text class="m" transform="translate(1526.26,418.40) scale(0.93,1)" font-size="22" text-anchor="middle" fill="#5888a4" stroke="#5888a4" stroke-width="1.0">P</text>
<text class="m" transform="translate(1538.47,418.40) scale(0.93,1)" font-size="22" text-anchor="middle" fill="#0a2fa0" stroke="#0a2fa0" stroke-width="1.0">R</text>
<text class="m" transform="translate(1550.69,418.40) scale(0.93,1)" font-size="22" text-anchor="middle" fill="#0a2fa0" stroke="#0a2fa0" stroke-width="1.0">S</text>
<text class="m" transform="translate(1562.90,418.40) scale(0.93,1)" font-size="22" text-anchor="middle" fill="#5888a4" stroke="#5888a4" stroke-width="1.0">C</text>
<text class="m" transform="translate(1575.12,418.40) scale(0.93,1)" font-size="22" text-anchor="middle" fill="#0a2fa0" stroke="#0a2fa0" stroke-width="1.0">S</text>
<text class="m" transform="translate(1587.33,418.40) scale(0.93,1)" font-size="22" text-anchor="middle" fill="#0a2fa0" stroke="#0a2fa0" stroke-width="1.0">R</text>
<text class="m" transform="translate(1599.54,418.40) scale(0.93,1)" font-size="22" text-anchor="middle" fill="#0a2fa0" stroke="#0a2fa0" stroke-width="1.0">K</text>
<text class="m" transform="translate(1611.76,418.40) scale(0.93,1)" font-size="22" text-anchor="middle" fill="#0a2fa0" stroke="#0a2fa0" stroke-width="1.0">Q</text>
<text class="m" transform="translate(1623.97,418.40) scale(0.93,1)" font-size="22" text-anchor="middle" fill="#0a2fa0" stroke="#0a2fa0" stroke-width="1.0">H</text>
<text class="m" transform="translate(1636.19,418.40) scale(0.93,1)" font-size="22" text-anchor="middle" fill="#5585a2" stroke="#5585a2" stroke-width="1.0">P</text>
<text class="m" transform="translate(1648.40,418.40) scale(0.93,1)" font-size="22" text-anchor="middle" fill="#0a2fa0" stroke="#0a2fa0" stroke-width="1.0">G</text>
<text class="m" transform="translate(1660.61,418.40) scale(0.93,1)" font-size="22" text-anchor="middle" fill="#5888a4" stroke="#5888a4" stroke-width="1.0">S</text>
<text class="m" transform="translate(1672.83,418.40) scale(0.93,1)" font-size="22" text-anchor="middle" fill="#0a2fa0" stroke="#0a2fa0" stroke-width="1.0">C</text>
<text class="m" transform="translate(1685.04,418.40) scale(0.93,1)" font-size="22" text-anchor="middle" fill="#0a2fa0" stroke="#0a2fa0" stroke-width="1.0">Q</text>
<text class="m" transform="translate(1697.26,418.40) scale(0.93,1)" font-size="22" text-anchor="middle" fill="#0a2fa0" stroke="#0a2fa0" stroke-width="1.0">C</text>
<text class="m" x="72.5" y="210.7" font-size="22.8" letter-spacing="0.37" fill="#000">Homo sapiens</text>
<text class="m" x="72.5" y="252.3" font-size="22.8" letter-spacing="0.37" fill="#000">Pan troglodytes</text>
<text class="m" x="72.5" y="293.9" font-size="22.8" letter-spacing="0.37" fill="#000">Nomascus leucogenys</text>
<text class="m" x="72.5" y="335.5" font-size="22.8" letter-spacing="0.37" fill="#000">Macaca mulatta</text>
<text class="m" x="72.5" y="377.1" font-size="22.8" letter-spacing="0.37" fill="#000">Microcebus murinus</text>
<text class="m" x="72.5" y="418.7" font-size="22.8" letter-spacing="0.37" fill="#000">Ictidomys tridecemlineatus</text>
</svg></body></html>
